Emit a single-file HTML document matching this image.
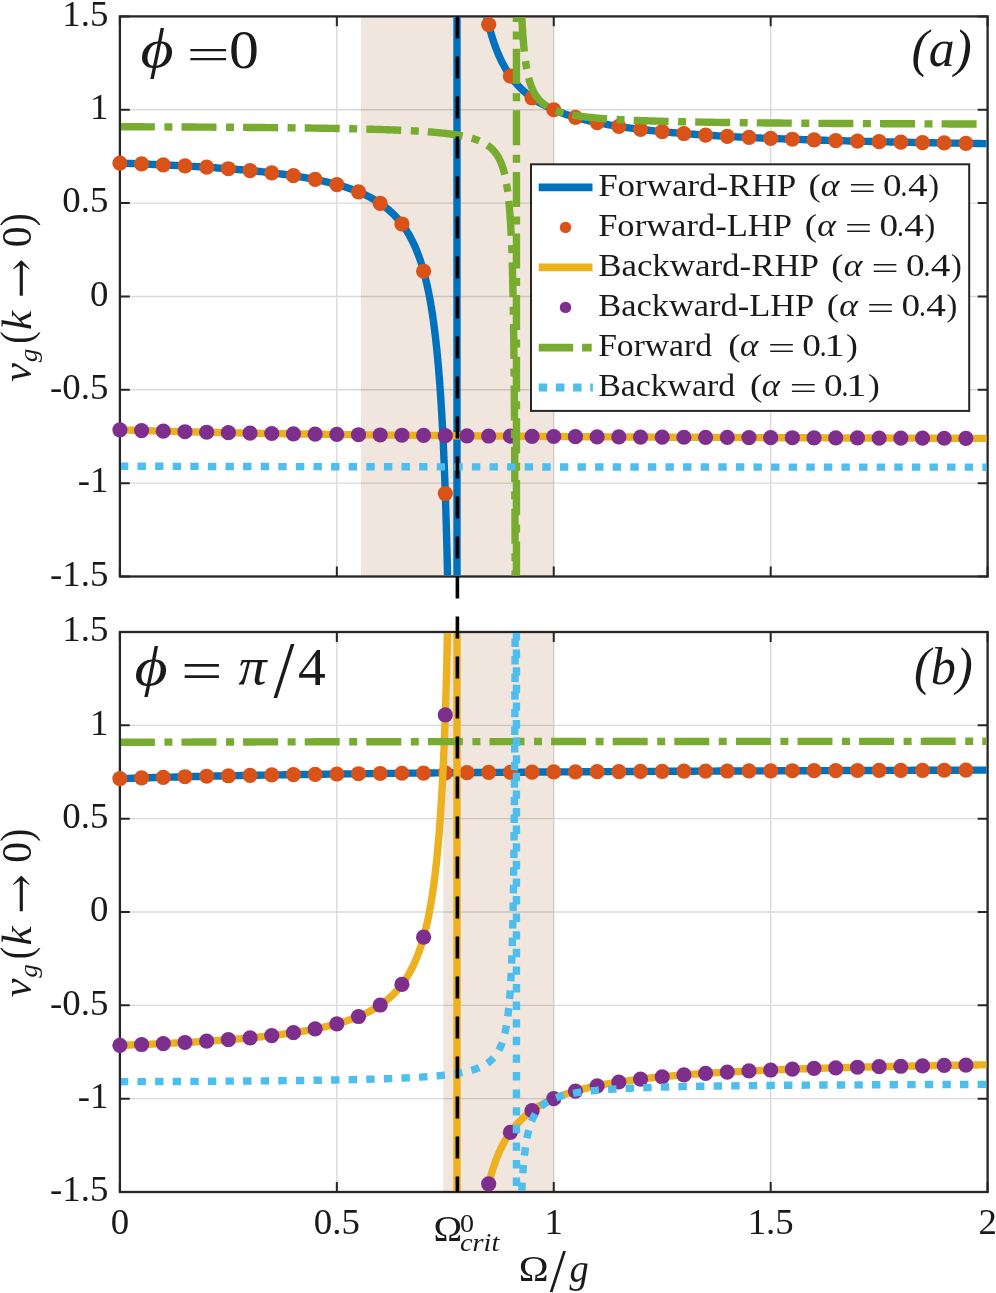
<!DOCTYPE html>
<html lang="en"><head><meta charset="utf-8"><title>Group velocity vs modulation frequency</title>
<style>html,body{margin:0;padding:0;background:#fff}svg{display:block}svg text{font-family:"Liberation Serif","DejaVu Serif",serif;fill:#1a1a1a}</style></head>
<body>
<svg width="996" height="1293" viewBox="0 0 996 1293">
<defs><clipPath id="ca"><rect x="121.00" y="17.50" width="865.50" height="557.90"/></clipPath><clipPath id="cb"><rect x="121.00" y="633.10" width="865.50" height="557.80"/></clipPath></defs>
<rect width="996" height="1293" fill="#fff"/>
<rect x="360.93" y="16.40" width="192.82" height="560.10" fill="#F0E6DD"/>
<path d="M336.83,16.40V576.50M553.75,16.40V576.50M770.68,16.40V576.50M119.90,109.75H987.60M119.90,203.10H987.60M119.90,296.45H987.60M119.90,389.80H987.60M119.90,483.15H987.60" stroke="#000" stroke-opacity="0.15" stroke-width="1.4" fill="none"/>
<path d="M119.90,576.50v-9.90M119.90,16.40v9.90M336.83,576.50v-9.90M336.83,16.40v9.90M553.75,576.50v-9.90M553.75,16.40v9.90M770.68,576.50v-9.90M770.68,16.40v9.90M987.60,576.50v-9.90M987.60,16.40v9.90M119.90,16.40h9.90M987.60,16.40h-9.90M119.90,109.75h9.90M987.60,109.75h-9.90M119.90,203.10h9.90M987.60,203.10h-9.90M119.90,296.45h9.90M987.60,296.45h-9.90M119.90,389.80h9.90M987.60,389.80h-9.90M119.90,483.15h9.90M987.60,483.15h-9.90M119.90,576.50h9.90M987.60,576.50h-9.90" stroke="#262626" stroke-width="2.0" fill="none"/>
<rect x="119.90" y="16.40" width="867.70" height="560.10" fill="none" stroke="#262626" stroke-width="2.3"/>
<g clip-path="url(#ca)" fill="none" stroke="#0072BD" stroke-width="7.4" stroke-linejoin="round">
<path d="M119.90,163.09 L122.43,163.18 L124.94,163.27 L127.45,163.37 L129.94,163.46 L132.41,163.55 L134.88,163.65 L137.33,163.74 L139.77,163.84 L142.20,163.94 L144.62,164.03 L147.02,164.13 L149.41,164.23 L151.79,164.34 L154.15,164.44 L156.51,164.54 L158.85,164.65 L161.18,164.75 L163.50,164.86 L165.80,164.97 L168.09,165.08 L170.37,165.19 L172.64,165.30 L174.90,165.41 L177.14,165.53 L179.38,165.64 L181.60,165.76 L183.81,165.88 L186.00,165.99 L188.19,166.11 L190.36,166.24 L192.53,166.36 L194.68,166.48 L196.81,166.61 L198.94,166.74 L201.06,166.86 L203.16,166.99 L205.25,167.13 L207.33,167.26 L209.40,167.39 L211.46,167.53 L213.51,167.67 L215.54,167.80 L217.56,167.94 L219.58,168.09 L221.58,168.23 L223.57,168.38 L225.54,168.52 L227.51,168.67 L229.47,168.82 L231.41,168.97 L233.35,169.13 L235.27,169.28 L237.18,169.44 L239.08,169.60 L240.97,169.76 L242.85,169.92 L244.72,170.09 L246.57,170.25 L248.42,170.42 L250.25,170.59 L252.08,170.77 L253.89,170.94 L255.69,171.12 L257.49,171.30 L259.27,171.48 L261.04,171.66 L262.80,171.85 L264.55,172.03 L266.29,172.22 L268.02,172.42 L269.73,172.61 L271.44,172.81 L273.14,173.01 L274.83,173.21 L276.50,173.41 L278.17,173.62 L279.82,173.83 L281.47,174.04 L283.10,174.26 L284.73,174.47 L286.34,174.69 L287.95,174.92 L289.54,175.14 L291.13,175.37 L292.70,175.60 L294.27,175.84 L295.82,176.08 L297.37,176.32 L298.90,176.56 L300.43,176.81 L301.94,177.06 L303.45,177.31 L304.94,177.57 L306.43,177.83 L307.91,178.09 L309.37,178.36 L310.83,178.63 L312.28,178.91 L313.71,179.18 L315.14,179.46 L316.56,179.75 L317.97,180.04 L319.37,180.33 L320.76,180.63 L322.14,180.93 L323.51,181.24 L324.87,181.55 L326.23,181.86 L327.57,182.18 L328.91,182.50 L330.23,182.83 L331.55,183.16 L332.85,183.50 L334.15,183.84 L335.44,184.18 L336.72,184.54 L337.99,184.89 L339.25,185.25 L340.50,185.62 L341.75,185.99 L342.98,186.37 L344.21,186.75 L345.43,187.14 L346.63,187.53 L347.83,187.93 L349.02,188.33 L350.21,188.75 L351.38,189.16 L352.55,189.59 L353.70,190.02 L354.85,190.45 L355.99,190.90 L357.12,191.34 L358.24,191.80 L359.36,192.26 L360.46,192.73 L361.56,193.21 L362.65,193.70 L363.73,194.19 L364.80,194.69 L365.86,195.20 L366.92,195.71 L367.97,196.24 L369.01,196.77 L370.04,197.31 L371.06,197.86 L372.07,198.41 L373.08,198.98 L374.08,199.56 L375.07,200.14 L376.06,200.74 L377.03,201.34 L378.00,201.95 L378.96,202.58 L379.91,203.21 L380.85,203.86 L381.79,204.51 L382.72,205.18 L383.64,205.86 L384.55,206.55 L385.46,207.25 L386.36,207.96 L387.25,208.68 L388.13,209.42 L389.00,210.17 L389.87,210.93 L390.73,211.71 L391.59,212.50 L392.43,213.30 L393.27,214.12 L394.10,214.95 L394.93,215.80 L395.74,216.66 L396.55,217.53 L397.35,218.43 L398.15,219.33 L398.94,220.26 L399.72,221.20 L400.49,222.16 L401.26,223.14 L402.02,224.13 L402.77,225.14 L403.52,226.18 L404.26,227.23 L404.99,228.30 L405.72,229.39 L406.44,230.50 L407.15,231.63 L407.85,232.79 L408.55,233.97 L409.25,235.16 L409.93,236.39 L410.61,237.63 L411.28,238.91 L411.95,240.20 L412.61,241.52 L413.26,242.87 L413.91,244.25 L414.55,245.65 L415.18,247.08 L415.81,248.54 L416.43,250.03 L417.04,251.55 L417.65,253.10 L418.25,254.69 L418.85,256.30 L419.44,257.95 L420.02,259.64 L420.60,261.36 L421.17,263.12 L421.74,264.91 L422.30,266.75 L422.85,268.62 L423.40,270.54 L423.94,272.49 L424.48,274.49 L425.01,276.54 L425.53,278.63 L426.05,280.76 L426.56,282.94 L427.07,285.18 L427.57,287.46 L428.07,289.80 L428.56,292.19 L429.04,294.63 L429.52,297.13 L430.00,299.69 L430.47,302.31 L430.93,305.00 L431.39,307.74 L431.84,310.55 L432.28,313.43 L432.73,316.38 L433.16,319.41 L433.59,322.50 L434.02,325.67 L434.44,328.92 L434.85,332.26 L435.26,335.67 L435.67,339.18 L436.07,342.77 L436.46,346.45 L436.85,350.23 L437.24,354.11 L437.62,358.09 L437.99,362.17 L438.36,366.36 L438.73,370.66 L439.09,375.08 L439.45,379.62 L439.80,384.28 L440.14,389.07 L440.49,393.99 L440.82,399.05 L441.16,404.25 L441.48,409.60 L441.81,415.09 L442.13,420.75 L442.44,426.57 L442.75,432.55 L443.05,438.71 L443.36,445.06 L443.65,451.59 L443.94,458.31 L444.23,465.24 L444.52,472.37 L444.80,479.73 L445.07,487.31 L445.34,495.13 L445.61,503.19 L445.87,511.50 L446.13,520.08 L446.39,528.93 L446.64,538.07 L446.88,547.51 L447.13,557.25 L447.36,567.32 L447.60,577.72 L447.83,588.47 L448.06,599.59 L448.28,611.09"/>
<path d="M480.42,-20.06 L480.92,-16.46 L481.43,-12.97 L481.94,-9.57 L482.47,-6.27 L483.00,-3.06 L483.54,0.07 L484.08,3.11 L484.63,6.07 L485.19,8.96 L485.76,11.77 L486.34,14.50 L486.92,17.16 L487.51,19.76 L488.11,22.28 L488.71,24.75 L489.33,27.15 L489.95,29.49 L490.58,31.77 L491.22,34.00 L491.86,36.17 L492.51,38.28 L493.18,40.35 L493.85,42.36 L494.52,44.33 L495.21,46.25 L495.91,48.12 L496.61,49.95 L497.32,51.74 L498.04,53.49 L498.77,55.19 L499.51,56.85 L500.25,58.48 L501.01,60.07 L501.77,61.62 L502.54,63.14 L503.32,64.63 L504.11,66.08 L504.91,67.50 L505.72,68.88 L506.53,70.24 L507.36,71.57 L508.19,72.87 L509.04,74.14 L509.89,75.38 L510.75,76.59 L511.62,77.78 L512.51,78.95 L513.40,80.09 L514.30,81.21 L515.20,82.30 L516.12,83.37 L517.05,84.42 L517.99,85.45 L518.94,86.45 L519.90,87.44 L520.86,88.41 L521.84,89.35 L522.83,90.28 L523.83,91.19 L524.83,92.08 L525.85,92.95 L526.88,93.81 L527.92,94.65 L528.96,95.47 L530.02,96.28 L531.09,97.07 L532.17,97.85 L533.26,98.61 L534.36,99.36 L535.47,100.09 L536.59,100.81 L537.72,101.52 L538.86,102.21 L540.02,102.89 L541.18,103.56 L542.36,104.22 L543.54,104.86 L544.74,105.49 L545.95,106.11 L547.16,106.72 L548.39,107.32 L549.63,107.91 L550.89,108.49 L552.15,109.05 L553.42,109.61 L554.71,110.16 L556.01,110.69 L557.31,111.22 L558.63,111.74 L559.96,112.25 L561.31,112.75 L562.66,113.25 L564.03,113.73 L565.41,114.21 L566.80,114.68 L568.20,115.14 L569.61,115.59 L571.04,116.03 L572.47,116.47 L573.92,116.90 L575.39,117.32 L576.86,117.74 L578.35,118.15 L579.84,118.55 L581.35,118.95 L582.88,119.34 L584.41,119.72 L585.96,120.10 L587.52,120.47 L589.09,120.84 L590.68,121.20 L592.27,121.55 L593.88,121.90 L595.51,122.25 L597.14,122.58 L598.79,122.92 L600.45,123.24 L602.13,123.57 L603.82,123.88 L605.52,124.20 L607.23,124.50 L608.96,124.81 L610.70,125.11 L612.45,125.40 L614.22,125.69 L616.00,125.98 L617.79,126.26 L619.60,126.53 L621.42,126.81 L623.25,127.08 L625.10,127.34 L626.96,127.60 L628.83,127.86 L630.72,128.11 L632.62,128.36 L634.54,128.61 L636.47,128.85 L638.41,129.09 L640.37,129.33 L642.34,129.56 L644.33,129.79 L646.33,130.02 L648.34,130.24 L650.37,130.46 L652.41,130.68 L654.47,130.89 L656.54,131.10 L658.62,131.31 L660.73,131.51 L662.84,131.72 L664.97,131.92 L667.11,132.11 L669.27,132.31 L671.45,132.50 L673.63,132.69 L675.84,132.87 L678.05,133.06 L680.29,133.24 L682.53,133.42 L684.80,133.59 L687.08,133.77 L689.37,133.94 L691.68,134.11 L694.00,134.28 L696.34,134.44 L698.69,134.61 L701.06,134.77 L703.45,134.93 L705.85,135.08 L708.26,135.24 L710.70,135.39 L713.14,135.54 L715.61,135.69 L718.08,135.84 L720.58,135.98 L723.09,136.13 L725.62,136.27 L728.16,136.41 L730.72,136.55 L733.29,136.68 L735.88,136.82 L738.49,136.95 L741.11,137.08 L743.75,137.21 L746.40,137.34 L749.07,137.47 L751.76,137.59 L754.47,137.72 L757.19,137.84 L759.92,137.96 L762.68,138.08 L765.45,138.20 L768.24,138.31 L771.04,138.43 L773.86,138.54 L776.70,138.65 L779.55,138.77 L782.42,138.88 L785.31,138.98 L788.22,139.09 L791.14,139.20 L794.08,139.30 L797.04,139.40 L800.01,139.51 L803.00,139.61 L806.01,139.71 L809.04,139.81 L812.08,139.90 L815.14,140.00 L818.22,140.10 L821.32,140.19 L824.43,140.28 L827.56,140.38 L830.71,140.47 L833.88,140.56 L837.06,140.65 L840.26,140.73 L843.48,140.82 L846.72,140.91 L849.98,140.99 L853.25,141.08 L856.55,141.16 L859.86,141.24 L863.19,141.33 L866.54,141.41 L869.90,141.49 L873.29,141.56 L876.69,141.64 L880.11,141.72 L883.55,141.80 L887.01,141.87 L890.49,141.95 L893.98,142.02 L897.50,142.09 L901.03,142.17 L904.58,142.24 L908.15,142.31 L911.74,142.38 L915.35,142.45 L918.98,142.52 L922.63,142.59 L926.29,142.65 L929.98,142.72 L933.68,142.79 L937.41,142.85 L941.15,142.91 L944.91,142.98 L948.70,143.04 L952.50,143.10 L956.32,143.17 L960.16,143.23 L964.02,143.29 L967.90,143.35 L971.80,143.41 L975.72,143.47 L979.66,143.53 L983.62,143.58 L987.60,143.64"/>
<path d="M457.00,16.40V576.50"/>
</g>
<g fill="#D95319"><circle cx="119.90" cy="163.09" r="7.6"/><circle cx="141.59" cy="163.91" r="7.6"/><circle cx="163.29" cy="164.85" r="7.6"/><circle cx="184.98" cy="165.94" r="7.6"/><circle cx="206.67" cy="167.22" r="7.6"/><circle cx="228.36" cy="168.74" r="7.6"/><circle cx="250.06" cy="170.57" r="7.6"/><circle cx="271.75" cy="172.84" r="7.6"/><circle cx="293.44" cy="175.71" r="7.6"/><circle cx="315.13" cy="179.46" r="7.6"/><circle cx="336.83" cy="184.56" r="7.6"/><circle cx="358.52" cy="191.91" r="7.6"/><circle cx="380.21" cy="203.42" r="7.6"/><circle cx="401.90" cy="223.98" r="7.6"/><circle cx="423.60" cy="271.23" r="7.6"/><circle cx="445.29" cy="493.52" r="7.6"/><circle cx="488.67" cy="24.58" r="7.6"/><circle cx="510.37" cy="76.05" r="7.6"/><circle cx="532.06" cy="97.77" r="7.6"/><circle cx="553.75" cy="109.75" r="7.6"/><circle cx="575.44" cy="117.34" r="7.6"/><circle cx="597.14" cy="122.58" r="7.6"/><circle cx="618.83" cy="126.42" r="7.6"/><circle cx="640.52" cy="129.35" r="7.6"/><circle cx="662.21" cy="131.66" r="7.6"/><circle cx="683.90" cy="133.52" r="7.6"/><circle cx="705.60" cy="135.07" r="7.6"/><circle cx="727.29" cy="136.36" r="7.6"/><circle cx="748.98" cy="137.46" r="7.6"/><circle cx="770.68" cy="138.41" r="7.6"/><circle cx="792.37" cy="139.24" r="7.6"/><circle cx="814.06" cy="139.97" r="7.6"/><circle cx="835.75" cy="140.61" r="7.6"/><circle cx="857.45" cy="141.18" r="7.6"/><circle cx="879.14" cy="141.70" r="7.6"/><circle cx="900.83" cy="142.16" r="7.6"/><circle cx="922.52" cy="142.58" r="7.6"/><circle cx="944.22" cy="142.97" r="7.6"/><circle cx="965.91" cy="143.32" r="7.6"/></g>
<path clip-path="url(#ca)" d="M119.90,429.81 L124.24,429.96 L128.58,430.11 L132.92,430.25 L137.25,430.39 L141.59,430.53 L145.93,430.66 L150.27,430.79 L154.61,430.92 L158.95,431.04 L163.29,431.16 L167.62,431.28 L171.96,431.40 L176.30,431.51 L180.64,431.62 L184.98,431.73 L189.32,431.84 L193.65,431.94 L197.99,432.04 L202.33,432.14 L206.67,432.24 L211.01,432.34 L215.35,432.43 L219.69,432.52 L224.02,432.61 L228.36,432.70 L232.70,432.79 L237.04,432.87 L241.38,432.96 L245.72,433.04 L250.06,433.12 L254.39,433.20 L258.73,433.28 L263.07,433.35 L267.41,433.43 L271.75,433.50 L276.09,433.57 L280.42,433.64 L284.76,433.71 L289.10,433.78 L293.44,433.85 L297.78,433.92 L302.12,433.98 L306.46,434.04 L310.79,434.11 L315.13,434.17 L319.47,434.23 L323.81,434.29 L328.15,434.35 L332.49,434.41 L336.83,434.46 L341.16,434.52 L345.50,434.58 L349.84,434.63 L354.18,434.68 L358.52,434.74 L362.86,434.79 L367.19,434.84 L371.53,434.89 L375.87,434.94 L380.21,434.99 L384.55,435.04 L388.89,435.09 L393.23,435.13 L397.56,435.18 L401.90,435.23 L406.24,435.27 L410.58,435.32 L414.92,435.36 L419.26,435.40 L423.60,435.44 L427.93,435.49 L432.27,435.53 L436.61,435.57 L440.95,435.61 L445.29,435.65 L449.63,435.69 L453.96,435.73 L458.30,435.77 L462.64,435.80 L466.98,435.84 L471.32,435.88 L475.66,435.92 L480.00,435.95 L484.33,435.99 L488.67,436.02 L493.01,436.06 L497.35,436.09 L501.69,436.12 L506.03,436.16 L510.37,436.19 L514.70,436.22 L519.04,436.26 L523.38,436.29 L527.72,436.32 L532.06,436.35 L536.40,436.38 L540.73,436.41 L545.07,436.44 L549.41,436.47 L553.75,436.50 L558.09,436.53 L562.43,436.56 L566.77,436.59 L571.10,436.62 L575.44,436.64 L579.78,436.67 L584.12,436.70 L588.46,436.73 L592.80,436.75 L597.14,436.78 L601.47,436.80 L605.81,436.83 L610.15,436.86 L614.49,436.88 L618.83,436.91 L623.17,436.93 L627.50,436.96 L631.84,436.98 L636.18,437.00 L640.52,437.03 L644.86,437.05 L649.20,437.07 L653.54,437.10 L657.87,437.12 L662.21,437.14 L666.55,437.17 L670.89,437.19 L675.23,437.21 L679.57,437.23 L683.90,437.25 L688.24,437.27 L692.58,437.29 L696.92,437.32 L701.26,437.34 L705.60,437.36 L709.94,437.38 L714.27,437.40 L718.61,437.42 L722.95,437.44 L727.29,437.46 L731.63,437.48 L735.97,437.50 L740.31,437.51 L744.64,437.53 L748.98,437.55 L753.32,437.57 L757.66,437.59 L762.00,437.61 L766.34,437.63 L770.68,437.64 L775.01,437.66 L779.35,437.68 L783.69,437.70 L788.03,437.71 L792.37,437.73 L796.71,437.75 L801.04,437.76 L805.38,437.78 L809.72,437.80 L814.06,437.81 L818.40,437.83 L822.74,437.85 L827.08,437.86 L831.41,437.88 L835.75,437.89 L840.09,437.91 L844.43,437.93 L848.77,437.94 L853.11,437.96 L857.45,437.97 L861.78,437.99 L866.12,438.00 L870.46,438.02 L874.80,438.03 L879.14,438.04 L883.48,438.06 L887.81,438.07 L892.15,438.09 L896.49,438.10 L900.83,438.12 L905.17,438.13 L909.51,438.14 L913.85,438.16 L918.18,438.17 L922.52,438.18 L926.86,438.20 L931.20,438.21 L935.54,438.22 L939.88,438.24 L944.22,438.25 L948.55,438.26 L952.89,438.28 L957.23,438.29 L961.57,438.30 L965.91,438.31 L970.25,438.33 L974.58,438.34 L978.92,438.35 L983.26,438.36 L987.60,438.37" fill="none" stroke="#EDB120" stroke-width="7.4"/>
<g fill="#7E2F8E"><circle cx="119.90" cy="429.81" r="7.6"/><circle cx="141.59" cy="430.53" r="7.6"/><circle cx="163.29" cy="431.16" r="7.6"/><circle cx="184.98" cy="431.73" r="7.6"/><circle cx="206.67" cy="432.24" r="7.6"/><circle cx="228.36" cy="432.70" r="7.6"/><circle cx="250.06" cy="433.12" r="7.6"/><circle cx="271.75" cy="433.50" r="7.6"/><circle cx="293.44" cy="433.85" r="7.6"/><circle cx="315.13" cy="434.17" r="7.6"/><circle cx="336.83" cy="434.46" r="7.6"/><circle cx="358.52" cy="434.74" r="7.6"/><circle cx="380.21" cy="434.99" r="7.6"/><circle cx="401.90" cy="435.23" r="7.6"/><circle cx="423.60" cy="435.44" r="7.6"/><circle cx="445.29" cy="435.65" r="7.6"/><circle cx="466.98" cy="435.84" r="7.6"/><circle cx="488.67" cy="436.02" r="7.6"/><circle cx="510.37" cy="436.19" r="7.6"/><circle cx="532.06" cy="436.35" r="7.6"/><circle cx="553.75" cy="436.50" r="7.6"/><circle cx="575.44" cy="436.64" r="7.6"/><circle cx="597.14" cy="436.78" r="7.6"/><circle cx="618.83" cy="436.91" r="7.6"/><circle cx="640.52" cy="437.03" r="7.6"/><circle cx="662.21" cy="437.14" r="7.6"/><circle cx="683.90" cy="437.25" r="7.6"/><circle cx="705.60" cy="437.36" r="7.6"/><circle cx="727.29" cy="437.46" r="7.6"/><circle cx="748.98" cy="437.55" r="7.6"/><circle cx="770.68" cy="437.64" r="7.6"/><circle cx="792.37" cy="437.73" r="7.6"/><circle cx="814.06" cy="437.81" r="7.6"/><circle cx="835.75" cy="437.89" r="7.6"/><circle cx="857.45" cy="437.97" r="7.6"/><circle cx="879.14" cy="438.04" r="7.6"/><circle cx="900.83" cy="438.12" r="7.6"/><circle cx="922.52" cy="438.18" r="7.6"/><circle cx="944.22" cy="438.25" r="7.6"/><circle cx="965.91" cy="438.31" r="7.6"/></g>
<g clip-path="url(#ca)" fill="none" stroke="#77AC30" stroke-width="7.4" stroke-linejoin="round">
<path d="M119.90,126.72 L122.87,126.73 L125.83,126.74 L128.78,126.76 L131.71,126.77 L134.62,126.78 L137.52,126.79 L140.41,126.80 L143.28,126.81 L146.13,126.83 L148.97,126.84 L151.80,126.85 L154.61,126.86 L157.41,126.88 L160.19,126.89 L162.96,126.90 L165.72,126.91 L168.46,126.93 L171.18,126.94 L173.89,126.95 L176.59,126.97 L179.27,126.98 L181.94,126.99 L184.60,127.01 L187.24,127.02 L189.86,127.04 L192.48,127.05 L195.08,127.06 L197.66,127.08 L200.23,127.09 L202.79,127.11 L205.33,127.12 L207.86,127.14 L210.38,127.15 L212.88,127.17 L215.37,127.19 L217.84,127.20 L220.30,127.22 L222.75,127.23 L225.18,127.25 L227.60,127.27 L230.01,127.28 L232.40,127.30 L234.78,127.32 L237.15,127.34 L239.50,127.35 L241.84,127.37 L244.17,127.39 L246.49,127.41 L248.79,127.43 L251.07,127.44 L253.35,127.46 L255.61,127.48 L257.86,127.50 L260.09,127.52 L262.32,127.54 L264.53,127.56 L266.72,127.58 L268.91,127.60 L271.08,127.62 L273.24,127.64 L275.38,127.66 L277.52,127.69 L279.64,127.71 L281.75,127.73 L283.84,127.75 L285.92,127.77 L287.99,127.80 L290.05,127.82 L292.10,127.84 L294.13,127.87 L296.15,127.89 L298.16,127.91 L300.16,127.94 L302.14,127.96 L304.11,127.99 L306.07,128.01 L308.02,128.04 L309.96,128.07 L311.88,128.09 L313.79,128.12 L315.69,128.15 L317.58,128.17 L319.46,128.20 L321.32,128.23 L323.17,128.26 L325.01,128.29 L326.84,128.32 L328.66,128.35 L330.46,128.38 L332.26,128.41 L334.04,128.44 L335.81,128.47 L337.57,128.50 L339.32,128.53 L341.06,128.56 L342.78,128.60 L344.49,128.63 L346.20,128.66 L347.89,128.70 L349.57,128.73 L351.24,128.77 L352.89,128.80 L354.54,128.84 L356.18,128.87 L357.80,128.91 L359.41,128.95 L361.02,128.99 L362.61,129.03 L364.19,129.06 L365.76,129.10 L367.32,129.14 L368.86,129.19 L370.40,129.23 L371.93,129.27 L373.44,129.31 L374.95,129.35 L376.44,129.40 L377.93,129.44 L379.40,129.49 L380.86,129.53 L382.32,129.58 L383.76,129.63 L385.19,129.67 L386.61,129.72 L388.02,129.77 L389.42,129.82 L390.81,129.87 L392.20,129.92 L393.57,129.97 L394.93,130.03 L396.28,130.08 L397.62,130.13 L398.95,130.19 L400.27,130.25 L401.58,130.30 L402.88,130.36 L404.17,130.42 L405.45,130.48 L406.72,130.54 L407.98,130.60 L409.23,130.66 L410.47,130.73 L411.71,130.79 L412.93,130.85 L414.14,130.92 L415.34,130.99 L416.54,131.06 L417.72,131.13 L418.90,131.20 L420.06,131.27 L421.22,131.34 L422.37,131.42 L423.51,131.49 L424.63,131.57 L425.75,131.65 L426.86,131.72 L427.97,131.81 L429.06,131.89 L430.14,131.97 L431.22,132.05 L432.28,132.14 L433.34,132.23 L434.38,132.32 L435.42,132.41 L436.45,132.50 L437.47,132.59 L438.49,132.69 L439.49,132.79 L440.48,132.88 L441.47,132.98 L442.45,133.09 L443.42,133.19 L444.38,133.30 L445.33,133.40 L446.28,133.51 L447.21,133.62 L448.14,133.74 L449.06,133.85 L449.97,133.97 L450.87,134.09 L451.76,134.21 L452.65,134.34 L453.53,134.46 L454.40,134.59 L455.26,134.72 L456.11,134.86 L456.96,134.99 L457.80,135.13 L458.63,135.27 L459.45,135.42 L460.26,135.57 L461.07,135.72 L461.87,135.87 L462.66,136.03 L463.44,136.18 L464.22,136.35 L464.98,136.51 L465.75,136.68 L466.50,136.85 L467.24,137.03 L467.98,137.21 L468.71,137.39 L469.43,137.58 L470.15,137.77 L470.86,137.96 L471.56,138.16 L472.25,138.36 L472.94,138.57 L473.62,138.78 L474.29,139.00 L474.96,139.22 L475.62,139.44 L476.27,139.67 L476.91,139.91 L477.55,140.15 L478.18,140.39 L478.80,140.64 L479.42,140.90 L480.03,141.16 L480.64,141.43 L481.23,141.70 L481.82,141.98 L482.41,142.27 L482.98,142.56 L483.55,142.86 L484.12,143.17 L484.67,143.48 L485.22,143.81 L485.77,144.14 L486.31,144.47 L486.84,144.82 L487.36,145.17 L487.88,145.53 L488.40,145.90 L488.90,146.28 L489.40,146.67 L489.90,147.07 L490.39,147.48 L490.87,147.90 L491.35,148.33 L491.82,148.77 L492.28,149.22 L492.74,149.69 L493.19,150.16 L493.64,150.65 L494.08,151.15 L494.52,151.67 L494.95,152.19 L495.37,152.74 L495.79,153.29 L496.20,153.86 L496.61,154.45 L497.01,155.06 L497.41,155.68 L497.80,156.31 L498.18,156.97 L498.56,157.65 L498.94,158.34 L499.31,159.05 L499.67,159.79 L500.03,160.54 L500.39,161.32 L500.74,162.12 L501.08,162.95 L501.42,163.80 L501.75,164.67 L502.08,165.58 L502.40,166.51 L502.72,167.47 L503.04,168.45 L503.35,169.47 L503.65,170.53 L503.95,171.61 L504.25,172.74 L504.54,173.89 L504.82,175.09 L505.10,176.32 L505.38,177.60 L505.65,178.92 L505.92,180.28 L506.18,181.69 L506.44,183.15 L506.69,184.66 L506.94,186.23 L507.19,187.85 L507.43,189.52 L507.67,191.26 L507.90,193.06 L508.13,194.92 L508.35,196.86 L508.57,198.87 L508.79,200.95 L509.00,203.11 L509.21,205.36 L509.42,207.69 L509.62,210.11 L509.81,212.63 L510.01,215.26 L510.20,217.98 L510.38,220.82 L510.56,223.78 L510.74,226.85 L510.92,230.06 L511.09,233.41 L511.25,236.89 L511.42,240.53 L511.58,244.33 L511.73,248.30 L511.89,252.45 L512.04,256.79 L512.18,261.32 L512.33,266.07 L512.47,271.03 L512.61,276.24 L512.74,281.70 L512.87,287.42 L513.00,293.42 L513.12,299.73 L513.24,306.35 L513.36,313.32 L513.48,320.65 L513.59,328.36 L513.70,336.48 L513.81,345.04 L513.91,354.07 L514.01,363.60 L514.11,373.67 L514.20,384.32 L514.30,395.58 L514.39,407.50 L514.48,420.14 L514.56,433.54 L514.64,447.77 L514.72,462.88 L514.80,478.96 L514.88,496.07 L514.95,514.30 L515.02,533.75 L515.09,554.52 L515.16,576.72 L515.22,600.47" stroke-dasharray="35 9.5 8 9.1"/>
<path d="M520.53,-16.27 L520.68,-11.21 L520.84,-6.39 L520.99,-1.80 L521.16,2.58 L521.32,6.76 L521.49,10.75 L521.67,14.57 L521.85,18.22 L522.03,21.71 L522.21,25.05 L522.41,28.25 L522.60,31.31 L522.80,34.25 L523.00,37.06 L523.21,39.76 L523.42,42.35 L523.64,44.84 L523.86,47.23 L524.08,49.52 L524.31,51.73 L524.54,53.85 L524.78,55.89 L525.03,57.85 L525.27,59.74 L525.53,61.56 L525.78,63.32 L526.04,65.01 L526.31,66.63 L526.58,68.21 L526.86,69.72 L527.14,71.18 L527.43,72.59 L527.72,73.95 L528.02,75.27 L528.32,76.54 L528.63,77.77 L528.94,78.96 L529.26,80.10 L529.58,81.21 L529.91,82.29 L530.24,83.33 L530.58,84.34 L530.93,85.31 L531.28,86.25 L531.63,87.17 L531.99,88.05 L532.36,88.91 L532.73,89.74 L533.11,90.55 L533.50,91.33 L533.89,92.09 L534.29,92.83 L534.69,93.55 L535.10,94.24 L535.51,94.92 L535.93,95.57 L536.36,96.21 L536.79,96.82 L537.23,97.43 L537.68,98.01 L538.13,98.58 L538.59,99.13 L539.05,99.67 L539.52,100.19 L540.00,100.70 L540.48,101.19 L540.98,101.67 L541.47,102.14 L541.98,102.60 L542.49,103.04 L543.00,103.48 L543.53,103.90 L544.06,104.31 L544.60,104.71 L545.14,105.10 L545.70,105.48 L546.25,105.85 L546.82,106.21 L547.39,106.56 L547.97,106.91 L548.56,107.24 L549.16,107.57 L549.76,107.89 L550.37,108.20 L550.99,108.51 L551.61,108.81 L552.24,109.10 L552.88,109.38 L553.53,109.66 L554.18,109.93 L554.84,110.19 L555.51,110.45 L556.19,110.70 L556.88,110.95 L557.57,111.19 L558.27,111.43 L558.98,111.66 L559.70,111.88 L560.42,112.10 L561.16,112.32 L561.90,112.53 L562.65,112.74 L563.40,112.94 L564.17,113.14 L564.94,113.33 L565.72,113.52 L566.52,113.70 L567.31,113.89 L568.12,114.06 L568.94,114.24 L569.76,114.41 L570.60,114.58 L571.44,114.74 L572.29,114.90 L573.15,115.06 L574.02,115.21 L574.89,115.36 L575.78,115.51 L576.67,115.65 L577.58,115.80 L578.49,115.93 L579.41,116.07 L580.34,116.21 L581.28,116.34 L582.23,116.47 L583.19,116.59 L584.15,116.72 L585.13,116.84 L586.12,116.96 L587.11,117.07 L588.12,117.19 L589.13,117.30 L590.16,117.41 L591.19,117.52 L592.23,117.63 L593.28,117.73 L594.35,117.83 L595.42,117.93 L596.50,118.03 L597.59,118.13 L598.69,118.23 L599.81,118.32 L600.93,118.41 L602.06,118.50 L603.20,118.59 L604.35,118.68 L605.51,118.77 L606.69,118.85 L607.87,118.93 L609.06,119.01 L610.26,119.09 L611.48,119.17 L612.70,119.25 L613.93,119.33 L615.18,119.40 L616.43,119.47 L617.70,119.55 L618.98,119.62 L620.26,119.69 L621.56,119.76 L622.87,119.82 L624.19,119.89 L625.52,119.96 L626.86,120.02 L628.21,120.08 L629.58,120.15 L630.95,120.21 L632.34,120.27 L633.73,120.33 L635.14,120.39 L636.56,120.44 L637.99,120.50 L639.43,120.56 L640.88,120.61 L642.35,120.67 L643.82,120.72 L645.31,120.77 L646.81,120.82 L648.32,120.87 L649.84,120.92 L651.37,120.97 L652.92,121.02 L654.47,121.07 L656.04,121.12 L657.62,121.16 L659.21,121.21 L660.82,121.25 L662.44,121.30 L664.06,121.34 L665.70,121.39 L667.36,121.43 L669.02,121.47 L670.70,121.51 L672.39,121.55 L674.09,121.59 L675.80,121.63 L677.53,121.67 L679.27,121.71 L681.02,121.75 L682.78,121.78 L684.56,121.82 L686.34,121.86 L688.14,121.89 L689.96,121.93 L691.79,121.96 L693.62,122.00 L695.48,122.03 L697.34,122.06 L699.22,122.10 L701.11,122.13 L703.01,122.16 L704.93,122.19 L706.86,122.22 L708.80,122.25 L710.76,122.28 L712.73,122.31 L714.71,122.34 L716.71,122.37 L718.72,122.40 L720.74,122.43 L722.78,122.46 L724.83,122.49 L726.89,122.51 L728.97,122.54 L731.06,122.57 L733.16,122.59 L735.28,122.62 L737.41,122.64 L739.56,122.67 L741.71,122.69 L743.89,122.72 L746.07,122.74 L748.28,122.77 L750.49,122.79 L752.72,122.81 L754.96,122.84 L757.22,122.86 L759.49,122.88 L761.78,122.90 L764.08,122.93 L766.39,122.95 L768.72,122.97 L771.06,122.99 L773.42,123.01 L775.79,123.03 L778.18,123.05 L780.58,123.07 L783.00,123.09 L785.43,123.11 L787.87,123.13 L790.33,123.15 L792.81,123.17 L795.30,123.19 L797.80,123.21 L800.32,123.22 L802.86,123.24 L805.41,123.26 L807.97,123.28 L810.55,123.30 L813.15,123.31 L815.76,123.33 L818.38,123.35 L821.02,123.36 L823.68,123.38 L826.35,123.40 L829.04,123.41 L831.74,123.43 L834.46,123.44 L837.19,123.46 L839.94,123.47 L842.71,123.49 L845.49,123.50 L848.28,123.52 L851.10,123.53 L853.92,123.55 L856.77,123.56 L859.63,123.58 L862.50,123.59 L865.40,123.60 L868.30,123.62 L871.23,123.63 L874.17,123.65 L877.12,123.66 L880.10,123.67 L883.09,123.68 L886.09,123.70 L889.11,123.71 L892.15,123.72 L895.21,123.73 L898.28,123.75 L901.36,123.76 L904.47,123.77 L907.59,123.78 L910.73,123.80 L913.88,123.81 L917.05,123.82 L920.24,123.83 L923.45,123.84 L926.67,123.85 L929.91,123.86 L933.16,123.87 L936.43,123.88 L939.72,123.90 L943.03,123.91 L946.35,123.92 L949.70,123.93 L953.05,123.94 L956.43,123.95 L959.82,123.96 L963.23,123.97 L966.66,123.98 L970.11,123.99 L973.57,124.00 L977.05,124.01 L980.55,124.02 L984.07,124.03 L987.60,124.03" stroke-dasharray="35 9.5 8 9.1" stroke-dashoffset="28.5"/>
<path d="M516.44,16.40V576.50" stroke-dasharray="35 9.5 8 9.1" stroke-dashoffset="29.3"/>
</g>
<path clip-path="url(#ca)" d="M119.90,466.18 L124.24,466.19 L128.58,466.21 L132.92,466.22 L137.25,466.24 L141.59,466.25 L145.93,466.27 L150.27,466.28 L154.61,466.29 L158.95,466.31 L163.29,466.32 L167.62,466.33 L171.96,466.35 L176.30,466.36 L180.64,466.37 L184.98,466.38 L189.32,466.39 L193.65,466.41 L197.99,466.42 L202.33,466.43 L206.67,466.44 L211.01,466.45 L215.35,466.46 L219.69,466.47 L224.02,466.48 L228.36,466.49 L232.70,466.50 L237.04,466.51 L241.38,466.52 L245.72,466.53 L250.06,466.54 L254.39,466.55 L258.73,466.56 L263.07,466.56 L267.41,466.57 L271.75,466.58 L276.09,466.59 L280.42,466.60 L284.76,466.61 L289.10,466.61 L293.44,466.62 L297.78,466.63 L302.12,466.64 L306.46,466.64 L310.79,466.65 L315.13,466.66 L319.47,466.67 L323.81,466.67 L328.15,466.68 L332.49,466.69 L336.83,466.69 L341.16,466.70 L345.50,466.71 L349.84,466.71 L354.18,466.72 L358.52,466.73 L362.86,466.73 L367.19,466.74 L371.53,466.74 L375.87,466.75 L380.21,466.76 L384.55,466.76 L388.89,466.77 L393.23,466.77 L397.56,466.78 L401.90,466.78 L406.24,466.79 L410.58,466.79 L414.92,466.80 L419.26,466.81 L423.60,466.81 L427.93,466.82 L432.27,466.82 L436.61,466.83 L440.95,466.83 L445.29,466.84 L449.63,466.84 L453.96,466.84 L458.30,466.85 L462.64,466.85 L466.98,466.86 L471.32,466.86 L475.66,466.87 L480.00,466.87 L484.33,466.88 L488.67,466.88 L493.01,466.88 L497.35,466.89 L501.69,466.89 L506.03,466.90 L510.37,466.90 L514.70,466.91 L519.04,466.91 L523.38,466.91 L527.72,466.92 L532.06,466.92 L536.40,466.93 L540.73,466.93 L545.07,466.93 L549.41,466.94 L553.75,466.94 L558.09,466.94 L562.43,466.95 L566.77,466.95 L571.10,466.95 L575.44,466.96 L579.78,466.96 L584.12,466.96 L588.46,466.97 L592.80,466.97 L597.14,466.97 L601.47,466.98 L605.81,466.98 L610.15,466.98 L614.49,466.99 L618.83,466.99 L623.17,466.99 L627.50,467.00 L631.84,467.00 L636.18,467.00 L640.52,467.01 L644.86,467.01 L649.20,467.01 L653.54,467.01 L657.87,467.02 L662.21,467.02 L666.55,467.02 L670.89,467.03 L675.23,467.03 L679.57,467.03 L683.90,467.03 L688.24,467.04 L692.58,467.04 L696.92,467.04 L701.26,467.05 L705.60,467.05 L709.94,467.05 L714.27,467.05 L718.61,467.06 L722.95,467.06 L727.29,467.06 L731.63,467.06 L735.97,467.07 L740.31,467.07 L744.64,467.07 L748.98,467.07 L753.32,467.07 L757.66,467.08 L762.00,467.08 L766.34,467.08 L770.68,467.08 L775.01,467.09 L779.35,467.09 L783.69,467.09 L788.03,467.09 L792.37,467.10 L796.71,467.10 L801.04,467.10 L805.38,467.10 L809.72,467.10 L814.06,467.11 L818.40,467.11 L822.74,467.11 L827.08,467.11 L831.41,467.11 L835.75,467.12 L840.09,467.12 L844.43,467.12 L848.77,467.12 L853.11,467.12 L857.45,467.13 L861.78,467.13 L866.12,467.13 L870.46,467.13 L874.80,467.13 L879.14,467.14 L883.48,467.14 L887.81,467.14 L892.15,467.14 L896.49,467.14 L900.83,467.15 L905.17,467.15 L909.51,467.15 L913.85,467.15 L918.18,467.15 L922.52,467.15 L926.86,467.16 L931.20,467.16 L935.54,467.16 L939.88,467.16 L944.22,467.16 L948.55,467.16 L952.89,467.17 L957.23,467.17 L961.57,467.17 L965.91,467.17 L970.25,467.17 L974.58,467.17 L978.92,467.18 L983.26,467.18 L987.60,467.18" fill="none" stroke="#4DBEEE" stroke-width="7.4" stroke-dasharray="8.4 9.2"/>
<rect x="443.27" y="632.00" width="110.48" height="560.00" fill="#F0E6DD"/>
<path d="M336.83,632.00V1192.00M553.75,632.00V1192.00M770.68,632.00V1192.00M119.90,725.33H987.60M119.90,818.67H987.60M119.90,912.00H987.60M119.90,1005.33H987.60M119.90,1098.67H987.60" stroke="#000" stroke-opacity="0.15" stroke-width="1.4" fill="none"/>
<path d="M119.90,1192.00v-9.90M119.90,632.00v9.90M336.83,1192.00v-9.90M336.83,632.00v9.90M553.75,1192.00v-9.90M553.75,632.00v9.90M770.68,1192.00v-9.90M770.68,632.00v9.90M987.60,1192.00v-9.90M987.60,632.00v9.90M119.90,632.00h9.90M987.60,632.00h-9.90M119.90,725.33h9.90M987.60,725.33h-9.90M119.90,818.67h9.90M987.60,818.67h-9.90M119.90,912.00h9.90M987.60,912.00h-9.90M119.90,1005.33h9.90M987.60,1005.33h-9.90M119.90,1098.67h9.90M987.60,1098.67h-9.90M119.90,1192.00h9.90M987.60,1192.00h-9.90" stroke="#262626" stroke-width="2.0" fill="none"/>
<rect x="119.90" y="632.00" width="867.70" height="560.00" fill="none" stroke="#262626" stroke-width="2.3"/>
<path clip-path="url(#cb)" d="M119.90,778.67 L124.24,778.52 L128.58,778.37 L132.92,778.22 L137.25,778.08 L141.59,777.95 L145.93,777.81 L150.27,777.68 L154.61,777.56 L158.95,777.43 L163.29,777.31 L167.62,777.19 L171.96,777.08 L176.30,776.96 L180.64,776.85 L184.98,776.74 L189.32,776.64 L193.65,776.53 L197.99,776.43 L202.33,776.33 L206.67,776.23 L211.01,776.14 L215.35,776.04 L219.69,775.95 L224.02,775.86 L228.36,775.77 L232.70,775.68 L237.04,775.60 L241.38,775.52 L245.72,775.43 L250.06,775.35 L254.39,775.27 L258.73,775.20 L263.07,775.12 L267.41,775.05 L271.75,774.97 L276.09,774.90 L280.42,774.83 L284.76,774.76 L289.10,774.69 L293.44,774.62 L297.78,774.56 L302.12,774.49 L306.46,774.43 L310.79,774.37 L315.13,774.30 L319.47,774.24 L323.81,774.18 L328.15,774.13 L332.49,774.07 L336.83,774.01 L341.16,773.95 L345.50,773.90 L349.84,773.84 L354.18,773.79 L358.52,773.74 L362.86,773.69 L367.19,773.63 L371.53,773.58 L375.87,773.53 L380.21,773.48 L384.55,773.44 L388.89,773.39 L393.23,773.34 L397.56,773.29 L401.90,773.25 L406.24,773.20 L410.58,773.16 L414.92,773.12 L419.26,773.07 L423.60,773.03 L427.93,772.99 L432.27,772.95 L436.61,772.91 L440.95,772.87 L445.29,772.83 L449.63,772.79 L453.96,772.75 L458.30,772.71 L462.64,772.67 L466.98,772.63 L471.32,772.60 L475.66,772.56 L480.00,772.52 L484.33,772.49 L488.67,772.45 L493.01,772.42 L497.35,772.38 L501.69,772.35 L506.03,772.32 L510.37,772.28 L514.70,772.25 L519.04,772.22 L523.38,772.19 L527.72,772.16 L532.06,772.12 L536.40,772.09 L540.73,772.06 L545.07,772.03 L549.41,772.00 L553.75,771.97 L558.09,771.94 L562.43,771.92 L566.77,771.89 L571.10,771.86 L575.44,771.83 L579.78,771.80 L584.12,771.78 L588.46,771.75 L592.80,771.72 L597.14,771.70 L601.47,771.67 L605.81,771.64 L610.15,771.62 L614.49,771.59 L618.83,771.57 L623.17,771.54 L627.50,771.52 L631.84,771.50 L636.18,771.47 L640.52,771.45 L644.86,771.42 L649.20,771.40 L653.54,771.38 L657.87,771.35 L662.21,771.33 L666.55,771.31 L670.89,771.29 L675.23,771.27 L679.57,771.24 L683.90,771.22 L688.24,771.20 L692.58,771.18 L696.92,771.16 L701.26,771.14 L705.60,771.12 L709.94,771.10 L714.27,771.08 L718.61,771.06 L722.95,771.04 L727.29,771.02 L731.63,771.00 L735.97,770.98 L740.31,770.96 L744.64,770.94 L748.98,770.92 L753.32,770.90 L757.66,770.89 L762.00,770.87 L766.34,770.85 L770.68,770.83 L775.01,770.81 L779.35,770.80 L783.69,770.78 L788.03,770.76 L792.37,770.74 L796.71,770.73 L801.04,770.71 L805.38,770.69 L809.72,770.68 L814.06,770.66 L818.40,770.64 L822.74,770.63 L827.08,770.61 L831.41,770.60 L835.75,770.58 L840.09,770.57 L844.43,770.55 L848.77,770.53 L853.11,770.52 L857.45,770.50 L861.78,770.49 L866.12,770.47 L870.46,770.46 L874.80,770.44 L879.14,770.43 L883.48,770.42 L887.81,770.40 L892.15,770.39 L896.49,770.37 L900.83,770.36 L905.17,770.35 L909.51,770.33 L913.85,770.32 L918.18,770.30 L922.52,770.29 L926.86,770.28 L931.20,770.26 L935.54,770.25 L939.88,770.24 L944.22,770.23 L948.55,770.21 L952.89,770.20 L957.23,770.19 L961.57,770.17 L965.91,770.16 L970.25,770.15 L974.58,770.14 L978.92,770.13 L983.26,770.11 L987.60,770.10" fill="none" stroke="#0072BD" stroke-width="7.4"/>
<g fill="#D95319"><circle cx="119.90" cy="778.67" r="7.6"/><circle cx="141.59" cy="777.95" r="7.6"/><circle cx="163.29" cy="777.31" r="7.6"/><circle cx="184.98" cy="776.74" r="7.6"/><circle cx="206.67" cy="776.23" r="7.6"/><circle cx="228.36" cy="775.77" r="7.6"/><circle cx="250.06" cy="775.35" r="7.6"/><circle cx="271.75" cy="774.97" r="7.6"/><circle cx="293.44" cy="774.62" r="7.6"/><circle cx="315.13" cy="774.30" r="7.6"/><circle cx="336.83" cy="774.01" r="7.6"/><circle cx="358.52" cy="773.74" r="7.6"/><circle cx="380.21" cy="773.48" r="7.6"/><circle cx="401.90" cy="773.25" r="7.6"/><circle cx="423.60" cy="773.03" r="7.6"/><circle cx="445.29" cy="772.83" r="7.6"/><circle cx="466.98" cy="772.63" r="7.6"/><circle cx="488.67" cy="772.45" r="7.6"/><circle cx="510.37" cy="772.28" r="7.6"/><circle cx="532.06" cy="772.12" r="7.6"/><circle cx="553.75" cy="771.97" r="7.6"/><circle cx="575.44" cy="771.83" r="7.6"/><circle cx="597.14" cy="771.70" r="7.6"/><circle cx="618.83" cy="771.57" r="7.6"/><circle cx="640.52" cy="771.45" r="7.6"/><circle cx="662.21" cy="771.33" r="7.6"/><circle cx="683.90" cy="771.22" r="7.6"/><circle cx="705.60" cy="771.12" r="7.6"/><circle cx="727.29" cy="771.02" r="7.6"/><circle cx="748.98" cy="770.92" r="7.6"/><circle cx="770.68" cy="770.83" r="7.6"/><circle cx="792.37" cy="770.74" r="7.6"/><circle cx="814.06" cy="770.66" r="7.6"/><circle cx="835.75" cy="770.58" r="7.6"/><circle cx="857.45" cy="770.50" r="7.6"/><circle cx="879.14" cy="770.43" r="7.6"/><circle cx="900.83" cy="770.36" r="7.6"/><circle cx="922.52" cy="770.29" r="7.6"/><circle cx="944.22" cy="770.23" r="7.6"/><circle cx="965.91" cy="770.16" r="7.6"/></g>
<g clip-path="url(#cb)" fill="none" stroke="#EDB120" stroke-width="7.4" stroke-linejoin="round">
<path d="M119.90,1045.33 L122.43,1045.24 L124.94,1045.15 L127.45,1045.06 L129.94,1044.97 L132.41,1044.87 L134.88,1044.78 L137.33,1044.68 L139.77,1044.59 L142.20,1044.49 L144.62,1044.39 L147.02,1044.29 L149.41,1044.19 L151.79,1044.09 L154.15,1043.99 L156.51,1043.88 L158.85,1043.78 L161.18,1043.67 L163.50,1043.57 L165.80,1043.46 L168.09,1043.35 L170.37,1043.24 L172.64,1043.13 L174.90,1043.01 L177.14,1042.90 L179.38,1042.79 L181.60,1042.67 L183.81,1042.55 L186.00,1042.43 L188.19,1042.31 L190.36,1042.19 L192.53,1042.07 L194.68,1041.94 L196.81,1041.82 L198.94,1041.69 L201.06,1041.56 L203.16,1041.43 L205.25,1041.30 L207.33,1041.17 L209.40,1041.03 L211.46,1040.90 L213.51,1040.76 L215.54,1040.62 L217.56,1040.48 L219.58,1040.34 L221.58,1040.20 L223.57,1040.05 L225.54,1039.90 L227.51,1039.76 L229.47,1039.61 L231.41,1039.45 L233.35,1039.30 L235.27,1039.15 L237.18,1038.99 L239.08,1038.83 L240.97,1038.67 L242.85,1038.51 L244.72,1038.34 L246.57,1038.17 L248.42,1038.01 L250.25,1037.83 L252.08,1037.66 L253.89,1037.49 L255.69,1037.31 L257.49,1037.13 L259.27,1036.95 L261.04,1036.77 L262.80,1036.58 L264.55,1036.39 L266.29,1036.20 L268.02,1036.01 L269.73,1035.82 L271.44,1035.62 L273.14,1035.42 L274.83,1035.22 L276.50,1035.01 L278.17,1034.81 L279.82,1034.60 L281.47,1034.39 L283.10,1034.17 L284.73,1033.95 L286.34,1033.73 L287.95,1033.51 L289.54,1033.28 L291.13,1033.06 L292.70,1032.82 L294.27,1032.59 L295.82,1032.35 L297.37,1032.11 L298.90,1031.87 L300.43,1031.62 L301.94,1031.37 L303.45,1031.12 L304.94,1030.86 L306.43,1030.60 L307.91,1030.34 L309.37,1030.07 L310.83,1029.80 L312.28,1029.52 L313.71,1029.25 L315.14,1028.96 L316.56,1028.68 L317.97,1028.39 L319.37,1028.10 L320.76,1027.80 L322.14,1027.50 L323.51,1027.19 L324.87,1026.88 L326.23,1026.57 L327.57,1026.25 L328.91,1025.93 L330.23,1025.60 L331.55,1025.27 L332.85,1024.93 L334.15,1024.59 L335.44,1024.25 L336.72,1023.89 L337.99,1023.54 L339.25,1023.18 L340.50,1022.81 L341.75,1022.44 L342.98,1022.06 L344.21,1021.68 L345.43,1021.29 L346.63,1020.90 L347.83,1020.50 L349.02,1020.10 L350.21,1019.68 L351.38,1019.27 L352.55,1018.84 L353.70,1018.41 L354.85,1017.98 L355.99,1017.54 L357.12,1017.09 L358.24,1016.63 L359.36,1016.17 L360.46,1015.70 L361.56,1015.22 L362.65,1014.74 L363.73,1014.24 L364.80,1013.74 L365.86,1013.24 L366.92,1012.72 L367.97,1012.20 L369.01,1011.66 L370.04,1011.12 L371.06,1010.58 L372.07,1010.02 L373.08,1009.45 L374.08,1008.88 L375.07,1008.29 L376.06,1007.70 L377.03,1007.09 L378.00,1006.48 L378.96,1005.85 L379.91,1005.22 L380.85,1004.58 L381.79,1003.92 L382.72,1003.25 L383.64,1002.58 L384.55,1001.89 L385.46,1001.19 L386.36,1000.48 L387.25,999.75 L388.13,999.01 L389.00,998.26 L389.87,997.50 L390.73,996.73 L391.59,995.94 L392.43,995.13 L393.27,994.32 L394.10,993.49 L394.93,992.64 L395.74,991.78 L396.55,990.90 L397.35,990.01 L398.15,989.10 L398.94,988.18 L399.72,987.24 L400.49,986.28 L401.26,985.30 L402.02,984.31 L402.77,983.29 L403.52,982.26 L404.26,981.21 L404.99,980.14 L405.72,979.05 L406.44,977.94 L407.15,976.80 L407.85,975.65 L408.55,974.47 L409.25,973.27 L409.93,972.05 L410.61,970.81 L411.28,969.53 L411.95,968.24 L412.61,966.92 L413.26,965.57 L413.91,964.19 L414.55,962.79 L415.18,961.36 L415.81,959.90 L416.43,958.41 L417.04,956.89 L417.65,955.34 L418.25,953.76 L418.85,952.14 L419.44,950.49 L420.02,948.80 L420.60,947.08 L421.17,945.32 L421.74,943.53 L422.30,941.70 L422.85,939.82 L423.40,937.91 L423.94,935.95 L424.48,933.95 L425.01,931.91 L425.53,929.82 L426.05,927.69 L426.56,925.50 L427.07,923.27 L427.57,920.99 L428.07,918.65 L428.56,916.26 L429.04,913.82 L429.52,911.32 L430.00,908.76 L430.47,906.14 L430.93,903.46 L431.39,900.71 L431.84,897.90 L432.28,895.02 L432.73,892.07 L433.16,889.05 L433.59,885.95 L434.02,882.78 L434.44,879.53 L434.85,876.20 L435.26,872.78 L435.67,869.28 L436.07,865.69 L436.46,862.01 L436.85,858.23 L437.24,854.35 L437.62,850.37 L437.99,846.29 L438.36,842.10 L438.73,837.80 L439.09,833.38 L439.45,828.84 L439.80,824.18 L440.14,819.39 L440.49,814.47 L440.82,809.42 L441.16,804.22 L441.48,798.87 L441.81,793.38 L442.13,787.72 L442.44,781.91 L442.75,775.92 L443.05,769.76 L443.36,763.42 L443.65,756.89 L443.94,750.17 L444.23,743.24 L444.52,736.11 L444.80,728.75 L445.07,721.17 L445.34,713.36 L445.61,705.30 L445.87,696.99 L446.13,688.41 L446.39,679.56 L446.64,670.42 L446.88,660.99 L447.13,651.24 L447.36,641.18 L447.60,630.78 L447.83,620.03 L448.06,608.91 L448.28,597.42"/>
<path d="M480.42,1228.45 L480.92,1224.86 L481.43,1221.36 L481.94,1217.97 L482.47,1214.67 L483.00,1211.45 L483.54,1208.33 L484.08,1205.28 L484.63,1202.32 L485.19,1199.44 L485.76,1196.63 L486.34,1193.90 L486.92,1191.24 L487.51,1188.64 L488.11,1186.12 L488.71,1183.65 L489.33,1181.25 L489.95,1178.91 L490.58,1176.63 L491.22,1174.41 L491.86,1172.24 L492.51,1170.12 L493.18,1168.06 L493.85,1166.04 L494.52,1164.07 L495.21,1162.15 L495.91,1160.28 L496.61,1158.45 L497.32,1156.67 L498.04,1154.92 L498.77,1153.22 L499.51,1151.55 L500.25,1149.93 L501.01,1148.34 L501.77,1146.78 L502.54,1145.27 L503.32,1143.78 L504.11,1142.33 L504.91,1140.91 L505.72,1139.53 L506.53,1138.17 L507.36,1136.84 L508.19,1135.55 L509.04,1134.28 L509.89,1133.03 L510.75,1131.82 L511.62,1130.63 L512.51,1129.46 L513.40,1128.32 L514.30,1127.20 L515.20,1126.11 L516.12,1125.04 L517.05,1123.99 L517.99,1122.96 L518.94,1121.96 L519.90,1120.97 L520.86,1120.01 L521.84,1119.06 L522.83,1118.13 L523.83,1117.22 L524.83,1116.33 L525.85,1115.46 L526.88,1114.60 L527.92,1113.76 L528.96,1112.94 L530.02,1112.13 L531.09,1111.34 L532.17,1110.56 L533.26,1109.80 L534.36,1109.05 L535.47,1108.32 L536.59,1107.60 L537.72,1106.89 L538.86,1106.20 L540.02,1105.52 L541.18,1104.85 L542.36,1104.20 L543.54,1103.56 L544.74,1102.92 L545.95,1102.30 L547.16,1101.69 L548.39,1101.10 L549.63,1100.51 L550.89,1099.93 L552.15,1099.36 L553.42,1098.81 L554.71,1098.26 L556.01,1097.72 L557.31,1097.19 L558.63,1096.68 L559.96,1096.17 L561.31,1095.66 L562.66,1095.17 L564.03,1094.69 L565.41,1094.21 L566.80,1093.74 L568.20,1093.28 L569.61,1092.83 L571.04,1092.38 L572.47,1091.95 L573.92,1091.52 L575.39,1091.09 L576.86,1090.68 L578.35,1090.27 L579.84,1089.86 L581.35,1089.47 L582.88,1089.08 L584.41,1088.69 L585.96,1088.32 L587.52,1087.94 L589.09,1087.58 L590.68,1087.22 L592.27,1086.87 L593.88,1086.52 L595.51,1086.17 L597.14,1085.84 L598.79,1085.50 L600.45,1085.18 L602.13,1084.85 L603.82,1084.54 L605.52,1084.22 L607.23,1083.91 L608.96,1083.61 L610.70,1083.31 L612.45,1083.02 L614.22,1082.73 L616.00,1082.44 L617.79,1082.16 L619.60,1081.88 L621.42,1081.61 L623.25,1081.34 L625.10,1081.08 L626.96,1080.82 L628.83,1080.56 L630.72,1080.31 L632.62,1080.06 L634.54,1079.81 L636.47,1079.57 L638.41,1079.33 L640.37,1079.09 L642.34,1078.86 L644.33,1078.63 L646.33,1078.40 L648.34,1078.18 L650.37,1077.96 L652.41,1077.74 L654.47,1077.53 L656.54,1077.32 L658.62,1077.11 L660.73,1076.91 L662.84,1076.70 L664.97,1076.50 L667.11,1076.31 L669.27,1076.11 L671.45,1075.92 L673.63,1075.73 L675.84,1075.55 L678.05,1075.36 L680.29,1075.18 L682.53,1075.00 L684.80,1074.83 L687.08,1074.65 L689.37,1074.48 L691.68,1074.31 L694.00,1074.14 L696.34,1073.98 L698.69,1073.81 L701.06,1073.65 L703.45,1073.49 L705.85,1073.34 L708.26,1073.18 L710.70,1073.03 L713.14,1072.88 L715.61,1072.73 L718.08,1072.58 L720.58,1072.44 L723.09,1072.29 L725.62,1072.15 L728.16,1072.01 L730.72,1071.87 L733.29,1071.74 L735.88,1071.60 L738.49,1071.47 L741.11,1071.34 L743.75,1071.21 L746.40,1071.08 L749.07,1070.95 L751.76,1070.83 L754.47,1070.70 L757.19,1070.58 L759.92,1070.46 L762.68,1070.34 L765.45,1070.22 L768.24,1070.11 L771.04,1069.99 L773.86,1069.88 L776.70,1069.77 L779.55,1069.66 L782.42,1069.55 L785.31,1069.44 L788.22,1069.33 L791.14,1069.23 L794.08,1069.12 L797.04,1069.02 L800.01,1068.92 L803.00,1068.81 L806.01,1068.71 L809.04,1068.62 L812.08,1068.52 L815.14,1068.42 L818.22,1068.33 L821.32,1068.23 L824.43,1068.14 L827.56,1068.05 L830.71,1067.95 L833.88,1067.86 L837.06,1067.78 L840.26,1067.69 L843.48,1067.60 L846.72,1067.51 L849.98,1067.43 L853.25,1067.34 L856.55,1067.26 L859.86,1067.18 L863.19,1067.10 L866.54,1067.02 L869.90,1066.94 L873.29,1066.86 L876.69,1066.78 L880.11,1066.70 L883.55,1066.63 L887.01,1066.55 L890.49,1066.48 L893.98,1066.40 L897.50,1066.33 L901.03,1066.26 L904.58,1066.18 L908.15,1066.11 L911.74,1066.04 L915.35,1065.97 L918.98,1065.91 L922.63,1065.84 L926.29,1065.77 L929.98,1065.70 L933.68,1065.64 L937.41,1065.57 L941.15,1065.51 L944.91,1065.44 L948.70,1065.38 L952.50,1065.32 L956.32,1065.26 L960.16,1065.19 L964.02,1065.13 L967.90,1065.07 L971.80,1065.01 L975.72,1064.96 L979.66,1064.90 L983.62,1064.84 L987.60,1064.78"/>
<path d="M457.00,632.00V1192.00"/>
</g>
<g fill="#7E2F8E"><circle cx="119.90" cy="1045.33" r="7.6"/><circle cx="141.59" cy="1044.52" r="7.6"/><circle cx="163.29" cy="1043.58" r="7.6"/><circle cx="184.98" cy="1042.49" r="7.6"/><circle cx="206.67" cy="1041.21" r="7.6"/><circle cx="228.36" cy="1039.69" r="7.6"/><circle cx="250.06" cy="1037.85" r="7.6"/><circle cx="271.75" cy="1035.58" r="7.6"/><circle cx="293.44" cy="1032.71" r="7.6"/><circle cx="315.13" cy="1028.97" r="7.6"/><circle cx="336.83" cy="1023.87" r="7.6"/><circle cx="358.52" cy="1016.52" r="7.6"/><circle cx="380.21" cy="1005.02" r="7.6"/><circle cx="401.90" cy="984.46" r="7.6"/><circle cx="423.60" cy="937.21" r="7.6"/><circle cx="445.29" cy="714.96" r="7.6"/><circle cx="488.67" cy="1183.82" r="7.6"/><circle cx="510.37" cy="1132.36" r="7.6"/><circle cx="532.06" cy="1110.64" r="7.6"/><circle cx="553.75" cy="1098.67" r="7.6"/><circle cx="575.44" cy="1091.08" r="7.6"/><circle cx="597.14" cy="1085.84" r="7.6"/><circle cx="618.83" cy="1082.00" r="7.6"/><circle cx="640.52" cy="1079.07" r="7.6"/><circle cx="662.21" cy="1076.76" r="7.6"/><circle cx="683.90" cy="1074.90" r="7.6"/><circle cx="705.60" cy="1073.35" r="7.6"/><circle cx="727.29" cy="1072.06" r="7.6"/><circle cx="748.98" cy="1070.96" r="7.6"/><circle cx="770.68" cy="1070.01" r="7.6"/><circle cx="792.37" cy="1069.18" r="7.6"/><circle cx="814.06" cy="1068.46" r="7.6"/><circle cx="835.75" cy="1067.81" r="7.6"/><circle cx="857.45" cy="1067.24" r="7.6"/><circle cx="879.14" cy="1066.72" r="7.6"/><circle cx="900.83" cy="1066.26" r="7.6"/><circle cx="922.52" cy="1065.84" r="7.6"/><circle cx="944.22" cy="1065.46" r="7.6"/><circle cx="965.91" cy="1065.10" r="7.6"/></g>
<path clip-path="url(#cb)" d="M119.90,742.30 L124.24,742.29 L128.58,742.27 L132.92,742.26 L137.25,742.24 L141.59,742.23 L145.93,742.21 L150.27,742.20 L154.61,742.19 L158.95,742.17 L163.29,742.16 L167.62,742.15 L171.96,742.13 L176.30,742.12 L180.64,742.11 L184.98,742.10 L189.32,742.09 L193.65,742.07 L197.99,742.06 L202.33,742.05 L206.67,742.04 L211.01,742.03 L215.35,742.02 L219.69,742.01 L224.02,742.00 L228.36,741.99 L232.70,741.98 L237.04,741.97 L241.38,741.96 L245.72,741.95 L250.06,741.94 L254.39,741.93 L258.73,741.92 L263.07,741.92 L267.41,741.91 L271.75,741.90 L276.09,741.89 L280.42,741.88 L284.76,741.87 L289.10,741.87 L293.44,741.86 L297.78,741.85 L302.12,741.84 L306.46,741.84 L310.79,741.83 L315.13,741.82 L319.47,741.81 L323.81,741.81 L328.15,741.80 L332.49,741.79 L336.83,741.79 L341.16,741.78 L345.50,741.77 L349.84,741.77 L354.18,741.76 L358.52,741.75 L362.86,741.75 L367.19,741.74 L371.53,741.74 L375.87,741.73 L380.21,741.72 L384.55,741.72 L388.89,741.71 L393.23,741.71 L397.56,741.70 L401.90,741.70 L406.24,741.69 L410.58,741.69 L414.92,741.68 L419.26,741.68 L423.60,741.67 L427.93,741.66 L432.27,741.66 L436.61,741.66 L440.95,741.65 L445.29,741.65 L449.63,741.64 L453.96,741.64 L458.30,741.63 L462.64,741.63 L466.98,741.62 L471.32,741.62 L475.66,741.61 L480.00,741.61 L484.33,741.60 L488.67,741.60 L493.01,741.60 L497.35,741.59 L501.69,741.59 L506.03,741.58 L510.37,741.58 L514.70,741.57 L519.04,741.57 L523.38,741.57 L527.72,741.56 L532.06,741.56 L536.40,741.56 L540.73,741.55 L545.07,741.55 L549.41,741.54 L553.75,741.54 L558.09,741.54 L562.43,741.53 L566.77,741.53 L571.10,741.53 L575.44,741.52 L579.78,741.52 L584.12,741.52 L588.46,741.51 L592.80,741.51 L597.14,741.51 L601.47,741.50 L605.81,741.50 L610.15,741.50 L614.49,741.49 L618.83,741.49 L623.17,741.49 L627.50,741.48 L631.84,741.48 L636.18,741.48 L640.52,741.47 L644.86,741.47 L649.20,741.47 L653.54,741.47 L657.87,741.46 L662.21,741.46 L666.55,741.46 L670.89,741.45 L675.23,741.45 L679.57,741.45 L683.90,741.45 L688.24,741.44 L692.58,741.44 L696.92,741.44 L701.26,741.44 L705.60,741.43 L709.94,741.43 L714.27,741.43 L718.61,741.43 L722.95,741.42 L727.29,741.42 L731.63,741.42 L735.97,741.42 L740.31,741.41 L744.64,741.41 L748.98,741.41 L753.32,741.41 L757.66,741.40 L762.00,741.40 L766.34,741.40 L770.68,741.40 L775.01,741.39 L779.35,741.39 L783.69,741.39 L788.03,741.39 L792.37,741.38 L796.71,741.38 L801.04,741.38 L805.38,741.38 L809.72,741.38 L814.06,741.37 L818.40,741.37 L822.74,741.37 L827.08,741.37 L831.41,741.37 L835.75,741.36 L840.09,741.36 L844.43,741.36 L848.77,741.36 L853.11,741.36 L857.45,741.35 L861.78,741.35 L866.12,741.35 L870.46,741.35 L874.80,741.35 L879.14,741.34 L883.48,741.34 L887.81,741.34 L892.15,741.34 L896.49,741.34 L900.83,741.34 L905.17,741.33 L909.51,741.33 L913.85,741.33 L918.18,741.33 L922.52,741.33 L926.86,741.32 L931.20,741.32 L935.54,741.32 L939.88,741.32 L944.22,741.32 L948.55,741.32 L952.89,741.31 L957.23,741.31 L961.57,741.31 L965.91,741.31 L970.25,741.31 L974.58,741.31 L978.92,741.30 L983.26,741.30 L987.60,741.30" fill="none" stroke="#77AC30" stroke-width="7.4" stroke-dasharray="35 9.5 8 9.1"/>
<g clip-path="url(#cb)" fill="none" stroke="#4DBEEE" stroke-width="7.4" stroke-linejoin="round">
<path d="M119.90,1081.70 L122.87,1081.69 L125.83,1081.67 L128.78,1081.66 L131.71,1081.65 L134.62,1081.64 L137.52,1081.63 L140.41,1081.62 L143.28,1081.61 L146.13,1081.59 L148.97,1081.58 L151.80,1081.57 L154.61,1081.56 L157.41,1081.54 L160.19,1081.53 L162.96,1081.52 L165.72,1081.51 L168.46,1081.49 L171.18,1081.48 L173.89,1081.47 L176.59,1081.45 L179.27,1081.44 L181.94,1081.43 L184.60,1081.41 L187.24,1081.40 L189.86,1081.38 L192.48,1081.37 L195.08,1081.36 L197.66,1081.34 L200.23,1081.33 L202.79,1081.31 L205.33,1081.30 L207.86,1081.28 L210.38,1081.27 L212.88,1081.25 L215.37,1081.23 L217.84,1081.22 L220.30,1081.20 L222.75,1081.19 L225.18,1081.17 L227.60,1081.15 L230.01,1081.14 L232.40,1081.12 L234.78,1081.10 L237.15,1081.08 L239.50,1081.07 L241.84,1081.05 L244.17,1081.03 L246.49,1081.01 L248.79,1080.99 L251.07,1080.98 L253.35,1080.96 L255.61,1080.94 L257.86,1080.92 L260.09,1080.90 L262.32,1080.88 L264.53,1080.86 L266.72,1080.84 L268.91,1080.82 L271.08,1080.80 L273.24,1080.78 L275.38,1080.76 L277.52,1080.73 L279.64,1080.71 L281.75,1080.69 L283.84,1080.67 L285.92,1080.65 L287.99,1080.62 L290.05,1080.60 L292.10,1080.58 L294.13,1080.55 L296.15,1080.53 L298.16,1080.51 L300.16,1080.48 L302.14,1080.46 L304.11,1080.43 L306.07,1080.41 L308.02,1080.38 L309.96,1080.35 L311.88,1080.33 L313.79,1080.30 L315.69,1080.27 L317.58,1080.25 L319.46,1080.22 L321.32,1080.19 L323.17,1080.16 L325.01,1080.13 L326.84,1080.10 L328.66,1080.07 L330.46,1080.04 L332.26,1080.01 L334.04,1079.98 L335.81,1079.95 L337.57,1079.92 L339.32,1079.89 L341.06,1079.86 L342.78,1079.82 L344.49,1079.79 L346.20,1079.76 L347.89,1079.72 L349.57,1079.69 L351.24,1079.65 L352.89,1079.62 L354.54,1079.58 L356.18,1079.55 L357.80,1079.51 L359.41,1079.47 L361.02,1079.43 L362.61,1079.39 L364.19,1079.36 L365.76,1079.32 L367.32,1079.28 L368.86,1079.23 L370.40,1079.19 L371.93,1079.15 L373.44,1079.11 L374.95,1079.07 L376.44,1079.02 L377.93,1078.98 L379.40,1078.93 L380.86,1078.89 L382.32,1078.84 L383.76,1078.79 L385.19,1078.75 L386.61,1078.70 L388.02,1078.65 L389.42,1078.60 L390.81,1078.55 L392.20,1078.50 L393.57,1078.45 L394.93,1078.39 L396.28,1078.34 L397.62,1078.29 L398.95,1078.23 L400.27,1078.17 L401.58,1078.12 L402.88,1078.06 L404.17,1078.00 L405.45,1077.94 L406.72,1077.88 L407.98,1077.82 L409.23,1077.76 L410.47,1077.70 L411.71,1077.63 L412.93,1077.57 L414.14,1077.50 L415.34,1077.43 L416.54,1077.36 L417.72,1077.29 L418.90,1077.22 L420.06,1077.15 L421.22,1077.08 L422.37,1077.00 L423.51,1076.93 L424.63,1076.85 L425.75,1076.77 L426.86,1076.70 L427.97,1076.62 L429.06,1076.53 L430.14,1076.45 L431.22,1076.37 L432.28,1076.28 L433.34,1076.19 L434.38,1076.10 L435.42,1076.01 L436.45,1075.92 L437.47,1075.83 L438.49,1075.73 L439.49,1075.64 L440.48,1075.54 L441.47,1075.44 L442.45,1075.33 L443.42,1075.23 L444.38,1075.13 L445.33,1075.02 L446.28,1074.91 L447.21,1074.80 L448.14,1074.68 L449.06,1074.57 L449.97,1074.45 L450.87,1074.33 L451.76,1074.21 L452.65,1074.08 L453.53,1073.96 L454.40,1073.83 L455.26,1073.70 L456.11,1073.56 L456.96,1073.43 L457.80,1073.29 L458.63,1073.15 L459.45,1073.00 L460.26,1072.85 L461.07,1072.70 L461.87,1072.55 L462.66,1072.40 L463.44,1072.24 L464.22,1072.07 L464.98,1071.91 L465.75,1071.74 L466.50,1071.57 L467.24,1071.39 L467.98,1071.21 L468.71,1071.03 L469.43,1070.84 L470.15,1070.65 L470.86,1070.46 L471.56,1070.26 L472.25,1070.06 L472.94,1069.85 L473.62,1069.64 L474.29,1069.43 L474.96,1069.20 L475.62,1068.98 L476.27,1068.75 L476.91,1068.52 L477.55,1068.28 L478.18,1068.03 L478.80,1067.78 L479.42,1067.52 L480.03,1067.26 L480.64,1066.99 L481.23,1066.72 L481.82,1066.44 L482.41,1066.15 L482.98,1065.86 L483.55,1065.56 L484.12,1065.25 L484.67,1064.94 L485.22,1064.62 L485.77,1064.29 L486.31,1063.95 L486.84,1063.61 L487.36,1063.25 L487.88,1062.89 L488.40,1062.52 L488.90,1062.14 L489.40,1061.75 L489.90,1061.35 L490.39,1060.94 L490.87,1060.52 L491.35,1060.09 L491.82,1059.65 L492.28,1059.20 L492.74,1058.74 L493.19,1058.26 L493.64,1057.77 L494.08,1057.27 L494.52,1056.76 L494.95,1056.23 L495.37,1055.69 L495.79,1055.13 L496.20,1054.56 L496.61,1053.97 L497.01,1053.37 L497.41,1052.75 L497.80,1052.11 L498.18,1051.45 L498.56,1050.78 L498.94,1050.09 L499.31,1049.37 L499.67,1048.64 L500.03,1047.88 L500.39,1047.10 L500.74,1046.30 L501.08,1045.48 L501.42,1044.63 L501.75,1043.75 L502.08,1042.85 L502.40,1041.92 L502.72,1040.96 L503.04,1039.97 L503.35,1038.95 L503.65,1037.90 L503.95,1036.81 L504.25,1035.69 L504.54,1034.54 L504.82,1033.34 L505.10,1032.10 L505.38,1030.83 L505.65,1029.51 L505.92,1028.15 L506.18,1026.73 L506.44,1025.28 L506.69,1023.77 L506.94,1022.20 L507.19,1020.58 L507.43,1018.91 L507.67,1017.17 L507.90,1015.37 L508.13,1013.51 L508.35,1011.57 L508.57,1009.57 L508.79,1007.48 L509.00,1005.32 L509.21,1003.08 L509.42,1000.74 L509.62,998.32 L509.81,995.80 L510.01,993.18 L510.20,990.45 L510.38,987.62 L510.56,984.66 L510.74,981.58 L510.92,978.38 L511.09,975.03 L511.25,971.55 L511.42,967.91 L511.58,964.11 L511.73,960.14 L511.89,955.99 L512.04,951.66 L512.18,947.12 L512.33,942.38 L512.47,937.41 L512.61,932.21 L512.74,926.75 L512.87,921.03 L513.00,915.02 L513.12,908.72 L513.24,902.10 L513.36,895.13 L513.48,887.81 L513.59,880.10 L513.70,871.98 L513.81,863.42 L513.91,854.39 L514.01,844.86 L514.11,834.79 L514.20,824.15 L514.30,812.89 L514.39,800.96 L514.48,788.33 L514.56,774.93 L514.64,760.71 L514.72,745.60 L514.80,729.52 L514.88,712.42 L514.95,694.19 L515.02,674.74 L515.09,653.98 L515.16,631.78 L515.22,608.03" stroke-dasharray="8.4 9.2"/>
<path d="M520.53,1224.66 L520.68,1219.61 L520.84,1214.79 L520.99,1210.20 L521.16,1205.82 L521.32,1201.64 L521.49,1197.64 L521.67,1193.83 L521.85,1190.18 L522.03,1186.69 L522.21,1183.35 L522.41,1180.15 L522.60,1177.09 L522.80,1174.16 L523.00,1171.34 L523.21,1168.64 L523.42,1166.05 L523.64,1163.56 L523.86,1161.18 L524.08,1158.88 L524.31,1156.68 L524.54,1154.56 L524.78,1152.52 L525.03,1150.55 L525.27,1148.66 L525.53,1146.84 L525.78,1145.09 L526.04,1143.40 L526.31,1141.77 L526.58,1140.20 L526.86,1138.69 L527.14,1137.23 L527.43,1135.82 L527.72,1134.46 L528.02,1133.14 L528.32,1131.87 L528.63,1130.64 L528.94,1129.45 L529.26,1128.31 L529.58,1127.20 L529.91,1126.12 L530.24,1125.08 L530.58,1124.08 L530.93,1123.10 L531.28,1122.16 L531.63,1121.25 L531.99,1120.36 L532.36,1119.50 L532.73,1118.67 L533.11,1117.86 L533.50,1117.08 L533.89,1116.32 L534.29,1115.58 L534.69,1114.87 L535.10,1114.17 L535.51,1113.50 L535.93,1112.84 L536.36,1112.21 L536.79,1111.59 L537.23,1110.99 L537.68,1110.40 L538.13,1109.84 L538.59,1109.29 L539.05,1108.75 L539.52,1108.23 L540.00,1107.72 L540.48,1107.22 L540.98,1106.74 L541.47,1106.27 L541.98,1105.82 L542.49,1105.37 L543.00,1104.94 L543.53,1104.52 L544.06,1104.11 L544.60,1103.71 L545.14,1103.32 L545.70,1102.94 L546.25,1102.57 L546.82,1102.20 L547.39,1101.85 L547.97,1101.51 L548.56,1101.17 L549.16,1100.84 L549.76,1100.52 L550.37,1100.21 L550.99,1099.91 L551.61,1099.61 L552.24,1099.32 L552.88,1099.04 L553.53,1098.76 L554.18,1098.49 L554.84,1098.22 L555.51,1097.97 L556.19,1097.71 L556.88,1097.47 L557.57,1097.23 L558.27,1096.99 L558.98,1096.76 L559.70,1096.53 L560.42,1096.31 L561.16,1096.10 L561.90,1095.89 L562.65,1095.68 L563.40,1095.48 L564.17,1095.28 L564.94,1095.09 L565.72,1094.90 L566.52,1094.71 L567.31,1094.53 L568.12,1094.35 L568.94,1094.18 L569.76,1094.01 L570.60,1093.84 L571.44,1093.68 L572.29,1093.52 L573.15,1093.36 L574.02,1093.21 L574.89,1093.06 L575.78,1092.91 L576.67,1092.76 L577.58,1092.62 L578.49,1092.48 L579.41,1092.35 L580.34,1092.21 L581.28,1092.08 L582.23,1091.95 L583.19,1091.83 L584.15,1091.70 L585.13,1091.58 L586.12,1091.46 L587.11,1091.34 L588.12,1091.23 L589.13,1091.12 L590.16,1091.01 L591.19,1090.90 L592.23,1090.79 L593.28,1090.69 L594.35,1090.58 L595.42,1090.48 L596.50,1090.38 L597.59,1090.29 L598.69,1090.19 L599.81,1090.10 L600.93,1090.01 L602.06,1089.92 L603.20,1089.83 L604.35,1089.74 L605.51,1089.65 L606.69,1089.57 L607.87,1089.49 L609.06,1089.40 L610.26,1089.32 L611.48,1089.25 L612.70,1089.17 L613.93,1089.09 L615.18,1089.02 L616.43,1088.94 L617.70,1088.87 L618.98,1088.80 L620.26,1088.73 L621.56,1088.66 L622.87,1088.59 L624.19,1088.53 L625.52,1088.46 L626.86,1088.40 L628.21,1088.33 L629.58,1088.27 L630.95,1088.21 L632.34,1088.15 L633.73,1088.09 L635.14,1088.03 L636.56,1087.97 L637.99,1087.92 L639.43,1087.86 L640.88,1087.81 L642.35,1087.75 L643.82,1087.70 L645.31,1087.65 L646.81,1087.60 L648.32,1087.54 L649.84,1087.49 L651.37,1087.45 L652.92,1087.40 L654.47,1087.35 L656.04,1087.30 L657.62,1087.26 L659.21,1087.21 L660.82,1087.16 L662.44,1087.12 L664.06,1087.08 L665.70,1087.03 L667.36,1086.99 L669.02,1086.95 L670.70,1086.91 L672.39,1086.87 L674.09,1086.83 L675.80,1086.79 L677.53,1086.75 L679.27,1086.71 L681.02,1086.67 L682.78,1086.64 L684.56,1086.60 L686.34,1086.56 L688.14,1086.53 L689.96,1086.49 L691.79,1086.46 L693.62,1086.42 L695.48,1086.39 L697.34,1086.36 L699.22,1086.32 L701.11,1086.29 L703.01,1086.26 L704.93,1086.23 L706.86,1086.20 L708.80,1086.16 L710.76,1086.13 L712.73,1086.10 L714.71,1086.08 L716.71,1086.05 L718.72,1086.02 L720.74,1085.99 L722.78,1085.96 L724.83,1085.93 L726.89,1085.91 L728.97,1085.88 L731.06,1085.85 L733.16,1085.83 L735.28,1085.80 L737.41,1085.78 L739.56,1085.75 L741.71,1085.73 L743.89,1085.70 L746.07,1085.68 L748.28,1085.65 L750.49,1085.63 L752.72,1085.61 L754.96,1085.58 L757.22,1085.56 L759.49,1085.54 L761.78,1085.52 L764.08,1085.49 L766.39,1085.47 L768.72,1085.45 L771.06,1085.43 L773.42,1085.41 L775.79,1085.39 L778.18,1085.37 L780.58,1085.35 L783.00,1085.33 L785.43,1085.31 L787.87,1085.29 L790.33,1085.27 L792.81,1085.25 L795.30,1085.23 L797.80,1085.21 L800.32,1085.19 L802.86,1085.18 L805.41,1085.16 L807.97,1085.14 L810.55,1085.12 L813.15,1085.11 L815.76,1085.09 L818.38,1085.07 L821.02,1085.06 L823.68,1085.04 L826.35,1085.02 L829.04,1085.01 L831.74,1084.99 L834.46,1084.98 L837.19,1084.96 L839.94,1084.95 L842.71,1084.93 L845.49,1084.92 L848.28,1084.90 L851.10,1084.89 L853.92,1084.87 L856.77,1084.86 L859.63,1084.84 L862.50,1084.83 L865.40,1084.81 L868.30,1084.80 L871.23,1084.79 L874.17,1084.77 L877.12,1084.76 L880.10,1084.75 L883.09,1084.73 L886.09,1084.72 L889.11,1084.71 L892.15,1084.70 L895.21,1084.68 L898.28,1084.67 L901.36,1084.66 L904.47,1084.65 L907.59,1084.64 L910.73,1084.62 L913.88,1084.61 L917.05,1084.60 L920.24,1084.59 L923.45,1084.58 L926.67,1084.57 L929.91,1084.56 L933.16,1084.55 L936.43,1084.53 L939.72,1084.52 L943.03,1084.51 L946.35,1084.50 L949.70,1084.49 L953.05,1084.48 L956.43,1084.47 L959.82,1084.46 L963.23,1084.45 L966.66,1084.44 L970.11,1084.43 L973.57,1084.42 L977.05,1084.41 L980.55,1084.40 L984.07,1084.39 L987.60,1084.38" stroke-dasharray="8.4 9.2" stroke-dashoffset="1.3"/>
<path d="M516.44,632.00V1192.00" stroke-dasharray="8.4 9.2" stroke-dashoffset="0.0"/>
</g>
<path d="M457.40,16.40V1192.00" stroke="#000" stroke-width="3.6" stroke-dasharray="22 18" fill="none"/>
<text x="108.3" y="25.70" font-size="36.8" text-anchor="end">1.5</text>
<text x="108.3" y="119.05" font-size="36.8" text-anchor="end">1</text>
<text x="108.3" y="212.40" font-size="36.8" text-anchor="end">0.5</text>
<text x="108.3" y="305.75" font-size="36.8" text-anchor="end">0</text>
<text x="108.3" y="399.10" font-size="36.8" text-anchor="end">-0.5</text>
<text x="108.3" y="492.45" font-size="36.8" text-anchor="end">-1</text>
<text x="108.3" y="585.80" font-size="36.8" text-anchor="end">-1.5</text>
<text x="108.3" y="641.30" font-size="36.8" text-anchor="end">1.5</text>
<text x="108.3" y="734.63" font-size="36.8" text-anchor="end">1</text>
<text x="108.3" y="827.97" font-size="36.8" text-anchor="end">0.5</text>
<text x="108.3" y="921.30" font-size="36.8" text-anchor="end">0</text>
<text x="108.3" y="1014.63" font-size="36.8" text-anchor="end">-0.5</text>
<text x="108.3" y="1107.97" font-size="36.8" text-anchor="end">-1</text>
<text x="108.3" y="1201.30" font-size="36.8" text-anchor="end">-1.5</text>
<text x="119.90" y="1234" font-size="36.8" text-anchor="middle">0</text>
<text x="336.83" y="1234" font-size="36.8" text-anchor="middle">0.5</text>
<text x="553.75" y="1234" font-size="36.8" text-anchor="middle">1</text>
<text x="770.68" y="1234" font-size="36.8" text-anchor="middle">1.5</text>
<text x="987.60" y="1234" font-size="36.8" text-anchor="middle">2</text>
<g transform="translate(31.5,297.9) rotate(-90)">
<text transform="translate(-83.75,-0.21) scale(0.4238,0.4106)" font-size="100" font-style="italic">v</text>
<text transform="translate(-64.40,5.40) scale(0.2723,0.2618)" font-size="100" font-style="italic">g</text>
<text transform="translate(-45.79,-0.08) scale(0.3731,0.4467)" font-size="100">(</text>
<text transform="translate(-31.99,-0.20) scale(0.4302,0.4145)" font-size="100" font-style="italic">k</text>
<text transform="translate(-0.99,0.08) scale(0.4241,0.3976)" font-size="100" style="font-family:'DejaVu Math TeX Gyre','Liberation Serif',serif">→</text>
<text transform="translate(50.64,-0.44) scale(0.4143,0.4179)" font-size="100">0</text>
<text transform="translate(71.62,-0.08) scale(0.3923,0.4467)" font-size="100">)</text>
</g>
<g transform="translate(31.5,913.4) rotate(-90)">
<text transform="translate(-83.75,-0.21) scale(0.4238,0.4106)" font-size="100" font-style="italic">v</text>
<text transform="translate(-64.40,5.40) scale(0.2723,0.2618)" font-size="100" font-style="italic">g</text>
<text transform="translate(-45.79,-0.08) scale(0.3731,0.4467)" font-size="100">(</text>
<text transform="translate(-31.99,-0.20) scale(0.4302,0.4145)" font-size="100" font-style="italic">k</text>
<text transform="translate(-0.99,0.08) scale(0.4241,0.3976)" font-size="100" style="font-family:'DejaVu Math TeX Gyre','Liberation Serif',serif">→</text>
<text transform="translate(50.64,-0.44) scale(0.4143,0.4179)" font-size="100">0</text>
<text transform="translate(71.62,-0.08) scale(0.3923,0.4467)" font-size="100">)</text>
</g>
<text transform="translate(433.57,1241.20) scale(0.3859,0.3646)" font-size="100">Ω</text>
<text transform="translate(459.98,1231.99) scale(0.2810,0.2552)" font-size="100">0</text>
<text transform="translate(459.95,1251.25) scale(0.2841,0.2470)" font-size="100" font-style="italic">crit</text>
<text transform="translate(518.79,1281.30) scale(0.4016,0.3662)" font-size="100">Ω</text>
<text transform="translate(549.70,1290.89) scale(0.5821,0.6061)" font-size="100">/</text>
<text transform="translate(569.60,1281.75) scale(0.3851,0.3926)" font-size="100" font-style="italic">g</text>
<text transform="translate(140.42,66.72) scale(0.6404,0.5467)" font-size="100" font-style="italic">ϕ</text>
<text transform="translate(186.46,69.32) scale(0.7681,0.4440)" font-size="100">=</text>
<text transform="translate(229.01,68.10) scale(0.5976,0.5493)" font-size="100">0</text>
<text transform="translate(911.43,65.55) scale(0.5183,0.5311)" font-size="100" font-style="italic">(a)</text>
<text transform="translate(134.42,685.10) scale(0.6404,0.5522)" font-size="100" font-style="italic">ϕ</text>
<text transform="translate(181.12,690.30) scale(0.7362,0.5760)" font-size="100">=</text>
<text transform="translate(238.44,684.48) scale(0.5608,0.5191)" font-size="100" font-style="italic">π</text>
<text transform="translate(273.60,696.89) scale(0.7536,0.8136)" font-size="100">/</text>
<text transform="translate(298.09,684.70) scale(0.5565,0.5338)" font-size="100">4</text>
<text transform="translate(913.99,683.88) scale(0.5037,0.5344)" font-size="100" font-style="italic">(b)</text>
<rect x="531.0" y="164.3" width="438.2" height="246.6" fill="#fff" stroke="#262626" stroke-width="2"/>
<text transform="translate(598.15,195.70) scale(0.3495,0.3260)" font-size="100">Forward-RHP</text>
<text x="808.4 820.8 839.5 848.4 875.8 883.1 900.6 907.9 928.2" y="195.70" font-size="32.6"><tspan textLength="12.3" lengthAdjust="spacingAndGlyphs">(</tspan><tspan font-style="italic" textLength="18.6" lengthAdjust="spacingAndGlyphs">α</tspan> <tspan dy="3.2" textLength="27.5" lengthAdjust="spacingAndGlyphs">=</tspan> <tspan dy="-3.2" textLength="18.6" lengthAdjust="spacingAndGlyphs">0</tspan><tspan textLength="6.8" lengthAdjust="spacingAndGlyphs">.</tspan><tspan textLength="19.6" lengthAdjust="spacingAndGlyphs">4</tspan><tspan textLength="10.8" lengthAdjust="spacingAndGlyphs">)</tspan></text>
<path d="M538.7,187.3H592.5" stroke="#0072BD" stroke-width="7.8"/>
<text transform="translate(598.16,235.85) scale(0.3455,0.3260)" font-size="100">Forward-LHP</text>
<text x="804.8 817.2 835.9 844.8 872.2 879.5 897.0 904.3 924.6" y="235.85" font-size="32.6"><tspan textLength="12.3" lengthAdjust="spacingAndGlyphs">(</tspan><tspan font-style="italic" textLength="18.6" lengthAdjust="spacingAndGlyphs">α</tspan> <tspan dy="3.2" textLength="27.5" lengthAdjust="spacingAndGlyphs">=</tspan> <tspan dy="-3.2" textLength="18.6" lengthAdjust="spacingAndGlyphs">0</tspan><tspan textLength="6.8" lengthAdjust="spacingAndGlyphs">.</tspan><tspan textLength="19.6" lengthAdjust="spacingAndGlyphs">4</tspan><tspan textLength="10.8" lengthAdjust="spacingAndGlyphs">)</tspan></text>
<circle cx="565.5" cy="227.4" r="5.7" fill="#D95319"/>
<text transform="translate(598.15,275.75) scale(0.3489,0.3260)" font-size="100">Backward-RHP</text>
<text x="831.3 843.7 862.4 871.3 898.7 906.0 923.5 930.8 951.1" y="275.75" font-size="32.6"><tspan textLength="12.3" lengthAdjust="spacingAndGlyphs">(</tspan><tspan font-style="italic" textLength="18.6" lengthAdjust="spacingAndGlyphs">α</tspan> <tspan dy="3.2" textLength="27.5" lengthAdjust="spacingAndGlyphs">=</tspan> <tspan dy="-3.2" textLength="18.6" lengthAdjust="spacingAndGlyphs">0</tspan><tspan textLength="6.8" lengthAdjust="spacingAndGlyphs">.</tspan><tspan textLength="19.6" lengthAdjust="spacingAndGlyphs">4</tspan><tspan textLength="10.8" lengthAdjust="spacingAndGlyphs">)</tspan></text>
<path d="M538.7,267.4H592.5" stroke="#EDB120" stroke-width="7.8"/>
<text transform="translate(598.17,315.80) scale(0.3443,0.3260)" font-size="100">Backward-LHP</text>
<text x="826.8 839.2 857.9 866.8 894.2 901.5 919.0 926.3 946.6" y="315.80" font-size="32.6"><tspan textLength="12.3" lengthAdjust="spacingAndGlyphs">(</tspan><tspan font-style="italic" textLength="18.6" lengthAdjust="spacingAndGlyphs">α</tspan> <tspan dy="3.2" textLength="27.5" lengthAdjust="spacingAndGlyphs">=</tspan> <tspan dy="-3.2" textLength="18.6" lengthAdjust="spacingAndGlyphs">0</tspan><tspan textLength="6.8" lengthAdjust="spacingAndGlyphs">.</tspan><tspan textLength="19.6" lengthAdjust="spacingAndGlyphs">4</tspan><tspan textLength="10.8" lengthAdjust="spacingAndGlyphs">)</tspan></text>
<circle cx="565.5" cy="307.4" r="5.7" fill="#7E2F8E"/>
<text transform="translate(598.19,356.00) scale(0.3358,0.3260)" font-size="100">Forward</text>
<text x="728.3 740.0 758.2 767.7 795.1 802.3 819.7 824.2 846.1" y="356.00" font-size="32.6"><tspan textLength="12.3" lengthAdjust="spacingAndGlyphs">(</tspan><tspan font-style="italic" textLength="18.2" lengthAdjust="spacingAndGlyphs">α</tspan> <tspan dy="3.2" textLength="27.5" lengthAdjust="spacingAndGlyphs">=</tspan> <tspan dy="-3.2" textLength="18.7" lengthAdjust="spacingAndGlyphs">0</tspan><tspan textLength="6.8" lengthAdjust="spacingAndGlyphs">.</tspan><tspan textLength="20.6" lengthAdjust="spacingAndGlyphs">1</tspan><tspan textLength="11.8" lengthAdjust="spacingAndGlyphs">)</tspan></text>
<path d="M538.7,347.6H592.5" stroke="#77AC30" stroke-width="7.8" stroke-dasharray="34.5 8.9 9.6 20"/>
<text transform="translate(598.19,395.90) scale(0.3377,0.3260)" font-size="100">Backward</text>
<text x="750.1 761.8 780.0 789.5 816.9 824.1 841.5 846.0 867.9" y="395.90" font-size="32.6"><tspan textLength="12.3" lengthAdjust="spacingAndGlyphs">(</tspan><tspan font-style="italic" textLength="18.2" lengthAdjust="spacingAndGlyphs">α</tspan> <tspan dy="3.2" textLength="27.5" lengthAdjust="spacingAndGlyphs">=</tspan> <tspan dy="-3.2" textLength="18.7" lengthAdjust="spacingAndGlyphs">0</tspan><tspan textLength="6.8" lengthAdjust="spacingAndGlyphs">.</tspan><tspan textLength="20.6" lengthAdjust="spacingAndGlyphs">1</tspan><tspan textLength="11.8" lengthAdjust="spacingAndGlyphs">)</tspan></text>
<path d="M538.7,387.5H592.9" stroke="#4DBEEE" stroke-width="7.8" stroke-dasharray="8.5 8.7"/>
</svg>
</body></html>
